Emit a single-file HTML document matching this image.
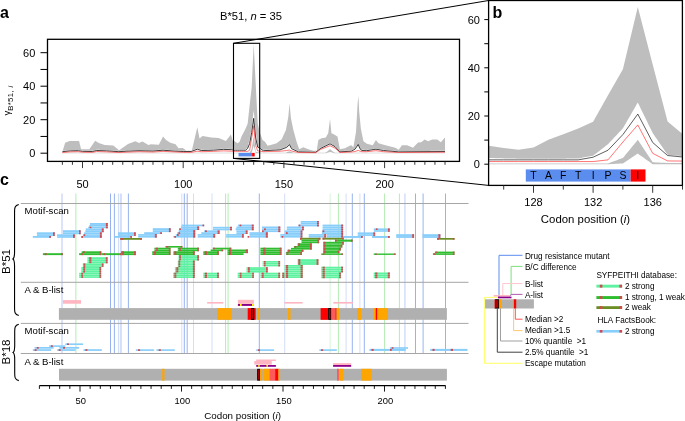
<!DOCTYPE html>
<html><head><meta charset="utf-8"><style>
html,body{margin:0;padding:0;background:#fff;width:685px;height:421px;overflow:hidden;font-family:"Liberation Sans",sans-serif}
svg{will-change:transform}
</style></head><body>
<svg width="685" height="421" viewBox="0 0 685 421" style="position:absolute;left:0;top:0">
<rect width="685" height="421" fill="#fff"/>
<defs><clipPath id="ca"><rect x="47.5" y="39.3" width="412" height="122"/></clipPath><clipPath id="cb"><rect x="488.6" y="0.5" width="193.8" height="185"/></clipPath></defs>
<g clip-path="url(#ca)">
<polygon points="62.36,151.69 65.18,142.65 66.99,141.98 69.61,140.97 79.08,140.97 81.09,149.18 89.35,149.18 95.19,140.64 98.81,142.98 104.65,144.99 113.31,145.49 119.15,150.35 128.02,143.99 135.27,141.14 139.09,142.98 142.52,141.47 148.36,144.99 150.98,144.15 158.83,144.66 163.06,136.62 166.08,139.97 170.31,142.81 175.55,144.32 178.57,148.17 182.80,148.01 187.23,151.36 191.66,151.36 197.30,127.24 199.51,138.46 202.53,135.95 211.40,137.45 218.65,137.96 225.90,140.97 230.93,134.44 232.74,140.80 233.55,140.30 235.56,141.98 237.58,143.15 239.59,141.64 241.61,136.28 243.62,132.43 245.63,128.41 247.65,123.72 249.66,105.29 251.68,87.20 253.69,43.99 255.70,83.85 257.72,123.55 259.73,132.26 262.55,139.97 264.97,141.64 267.59,145.66 271.61,144.82 276.65,143.15 281.68,139.13 285.91,129.92 288.33,116.68 289.54,103.28 290.95,118.36 293.37,129.92 296.59,141.64 299.21,149.18 303.23,147.34 308.27,149.18 313.30,150.69 316.73,150.69 318.34,139.97 321.56,138.29 325.79,137.45 328.21,133.27 330.02,119.03 331.43,133.27 333.24,134.10 337.47,136.62 339.89,149.18 344.92,148.17 349.76,145.66 351.37,145.33 353.38,147.17 356.00,131.93 357.61,103.45 358.42,95.91 359.22,111.83 360.83,128.58 363.45,141.14 366.88,143.65 372.72,145.33 375.94,139.97 378.56,143.32 383.59,144.66 389.43,146.16 395.27,147.84 398.70,149.85 401.92,145.16 407.16,145.16 413.00,147.84 418.03,142.48 421.25,142.14 424.68,139.46 428.10,141.14 432.33,139.46 437.37,139.46 440.79,142.14 444.82,137.79 445.02,137.79 445.02,150.77 444.01,150.78 443.01,150.79 442.00,150.79 440.99,150.80 439.98,150.81 438.98,150.81 437.97,150.82 436.96,150.83 435.96,150.84 434.95,150.84 433.94,150.85 432.94,150.86 431.93,150.87 430.92,150.87 429.91,150.88 428.91,150.89 427.90,150.90 426.89,150.90 425.89,150.91 424.88,150.92 423.87,150.92 422.87,150.93 421.86,150.94 420.85,150.95 419.84,150.95 418.84,150.96 417.83,150.97 416.82,150.98 415.82,150.98 414.81,150.99 413.80,151.00 412.80,151.00 411.79,151.01 410.78,151.02 409.77,151.03 408.77,151.03 407.76,151.04 406.75,151.05 405.75,151.06 404.74,151.06 403.73,151.07 402.73,151.08 401.72,151.08 400.71,151.09 399.70,151.10 398.70,151.11 397.69,151.02 396.68,150.93 395.68,150.84 394.67,150.75 393.66,150.66 392.66,150.57 391.65,150.48 390.64,150.39 389.63,150.30 388.63,150.21 387.62,150.12 386.61,150.03 385.61,149.94 384.60,149.86 383.59,149.77 382.59,149.59 381.58,149.41 380.57,149.24 379.56,149.06 378.56,148.88 377.55,148.71 376.54,148.53 375.54,148.49 374.53,148.66 373.52,148.82 372.52,148.98 371.51,149.15 370.50,149.31 369.49,149.47 368.49,149.64 367.48,149.80 366.47,149.93 365.47,149.89 364.46,149.85 363.45,149.82 362.45,149.78 361.44,149.26 360.43,148.43 359.42,146.64 358.42,144.22 357.41,144.91 356.40,146.37 355.40,147.84 354.39,148.76 353.38,149.32 352.38,149.88 351.37,150.44 350.36,150.50 349.35,150.55 348.35,150.61 347.34,150.67 346.33,150.73 345.33,150.79 344.32,150.85 343.31,150.91 342.31,150.97 341.30,151.02 340.29,151.08 339.28,150.46 338.28,149.38 337.27,148.29 336.26,147.21 335.26,146.13 334.25,145.46 333.24,144.89 332.24,144.32 331.23,143.75 330.22,143.18 329.21,143.46 328.21,143.95 327.20,144.44 326.19,144.93 325.19,145.43 324.18,145.92 323.17,146.41 322.17,146.90 321.16,147.39 320.15,148.05 319.14,148.82 318.14,149.59 317.13,150.36 316.12,151.13 315.12,151.43 314.11,151.41 313.10,151.39 312.10,151.37 311.09,151.35 310.08,151.33 309.07,151.31 308.07,151.29 307.06,151.27 306.05,151.25 305.05,151.23 304.04,151.22 303.03,151.20 302.03,151.18 301.02,151.16 300.01,151.14 299.00,151.12 298.00,150.92 296.99,150.45 295.98,149.98 294.98,149.51 293.97,149.05 292.96,148.58 291.96,148.11 290.95,146.72 289.94,144.71 288.93,144.48 287.93,145.44 286.92,146.39 285.91,146.89 284.91,147.27 283.90,147.65 282.89,148.03 281.89,148.41 280.88,148.79 279.87,149.11 278.87,149.16 277.86,149.21 276.85,149.26 275.84,149.31 274.84,149.36 273.83,149.41 272.82,149.46 271.82,149.51 270.81,149.56 269.80,149.61 268.79,149.66 267.79,149.71 266.78,149.76 265.77,149.81 264.77,149.86 263.76,149.91 262.75,149.51 261.75,148.82 260.74,148.12 259.73,147.50 258.73,147.09 257.72,146.67 256.71,139.13 255.70,131.59 254.70,120.96 253.69,110.32 252.68,119.28 251.68,128.24 250.67,133.77 249.66,139.30 248.65,143.32 247.65,147.34 246.64,148.26 245.63,149.18 244.63,149.26 243.62,149.35 242.61,149.35 241.61,149.35 240.60,149.35 239.59,149.35 238.58,149.35 237.58,149.35 236.57,149.26 235.56,149.18 234.56,149.01 233.55,148.84 232.54,149.18 231.54,148.93 230.53,148.89 229.52,148.84 228.51,148.80 227.51,148.76 226.50,148.72 225.49,148.68 224.49,148.64 223.48,148.59 222.47,148.68 221.47,148.76 220.46,148.84 219.45,148.93 218.44,149.01 217.44,149.10 216.43,149.18 215.42,149.26 214.42,149.35 213.41,149.43 212.40,149.46 211.40,149.49 210.39,149.51 209.38,149.54 208.38,149.57 207.37,149.60 206.36,149.63 205.35,149.65 204.35,149.68 203.34,149.71 202.33,149.74 201.33,149.77 200.32,149.43 199.31,149.10 198.31,148.76 197.30,148.43 196.29,148.82 195.28,149.21 194.28,149.60 193.27,149.99 192.26,150.38 191.26,150.77 190.25,150.77 189.24,150.77 188.23,150.77 187.23,150.77 186.22,150.77 185.21,150.77 184.21,150.77 183.20,150.77 182.19,150.72 181.19,150.67 180.18,150.62 179.17,150.57 178.16,150.52 177.16,150.47 176.15,150.42 175.14,150.37 174.14,150.32 173.13,150.27 172.12,150.19 171.12,150.10 170.11,150.02 169.10,149.93 168.09,149.85 167.09,149.77 166.08,149.68 165.07,149.60 164.07,149.51 163.06,149.43 162.05,149.51 161.05,149.60 160.04,149.68 159.03,149.77 158.02,149.85 157.02,149.93 156.01,150.02 155.00,150.10 154.00,150.19 152.99,150.27 151.98,150.24 150.98,150.22 149.97,150.20 148.96,150.17 147.95,150.15 146.95,150.13 145.94,150.10 144.93,150.08 143.93,150.05 142.92,150.03 141.91,150.01 140.91,149.98 139.90,149.96 138.89,149.93 137.88,149.98 136.88,150.02 135.87,150.06 134.86,150.10 133.86,150.14 132.85,150.19 131.84,150.23 130.84,150.27 129.83,150.31 128.82,150.35 127.81,150.39 126.81,150.44 125.80,150.50 124.79,150.56 123.79,150.62 122.78,150.69 121.77,150.75 120.77,150.81 119.76,150.88 118.75,150.94 117.75,150.87 116.74,150.80 115.73,150.73 114.72,150.66 113.72,150.59 112.71,150.52 111.70,150.45 110.70,150.38 109.69,150.31 108.68,150.24 107.67,150.17 106.67,150.10 105.66,150.07 104.65,150.03 103.65,150.00 102.64,149.97 101.63,149.93 100.63,149.90 99.62,149.87 98.61,149.83 97.61,149.80 96.60,149.77 95.59,150.02 94.58,150.27 93.58,150.52 92.57,150.77 91.56,150.75 90.56,150.74 89.55,150.72 88.54,150.70 87.53,150.69 86.53,150.67 85.52,150.65 84.51,150.64 83.51,150.62 82.50,150.60 81.49,150.44 80.49,150.27 79.48,150.10 78.47,149.93 77.47,149.95 76.46,149.98 75.45,150.00 74.44,150.02 73.44,150.04 72.43,150.06 71.42,150.08 70.42,150.10 69.41,150.21 68.40,150.31 67.39,150.42 66.39,150.52 65.38,150.62 64.37,150.73 63.37,150.83 62.36,150.94" fill="#bebebe"/>
<polygon points="62.36,152.78 63.37,152.78 64.37,152.78 65.38,152.78 66.39,152.78 67.39,152.78 68.40,152.78 69.41,152.78 70.42,152.78 71.42,152.78 72.43,152.78 73.44,152.78 74.44,152.78 75.45,152.78 76.46,152.78 77.47,152.78 78.47,152.78 79.48,152.78 80.49,152.78 81.49,152.78 82.50,152.78 83.51,152.78 84.51,152.78 85.52,152.78 86.53,152.78 87.53,152.78 88.54,152.78 89.55,152.78 90.56,152.78 91.56,152.78 92.57,152.78 93.58,152.78 94.58,152.78 95.59,152.78 96.60,152.78 97.61,152.78 98.61,152.78 99.62,152.78 100.63,152.78 101.63,152.78 102.64,152.78 103.65,152.78 104.65,152.78 105.66,152.78 106.67,152.78 107.67,152.78 108.68,152.78 109.69,152.78 110.70,152.78 111.70,152.78 112.71,152.78 113.72,152.78 114.72,152.78 115.73,152.78 116.74,152.78 117.75,152.78 118.75,152.78 119.76,152.78 120.77,152.78 121.77,152.78 122.78,152.78 123.79,152.78 124.79,152.78 125.80,152.78 126.81,152.78 127.81,152.78 128.82,152.78 129.83,152.78 130.84,152.78 131.84,152.78 132.85,152.78 133.86,152.78 134.86,152.78 135.87,152.78 136.88,152.78 137.88,152.78 138.89,152.78 139.90,152.78 140.91,152.78 141.91,152.78 142.92,152.78 143.93,152.78 144.93,152.78 145.94,152.78 146.95,152.78 147.95,152.78 148.96,152.78 149.97,152.78 150.98,152.78 151.98,152.78 152.99,152.78 154.00,152.78 155.00,152.78 156.01,152.78 157.02,152.78 158.02,152.78 159.03,152.78 160.04,152.78 161.05,152.78 162.05,152.78 163.06,152.78 164.07,152.78 165.07,152.78 166.08,152.78 167.09,152.78 168.09,152.78 169.10,152.78 170.11,152.78 171.12,152.78 172.12,152.78 173.13,152.78 174.14,152.78 175.14,152.78 176.15,152.78 177.16,152.78 178.16,152.78 179.17,152.78 180.18,152.78 181.19,152.78 182.19,152.78 183.20,152.78 184.21,152.78 185.21,152.78 186.22,152.78 187.23,152.78 188.23,152.78 189.24,152.78 190.25,152.78 191.26,152.78 192.26,152.78 193.27,152.78 194.28,152.78 195.28,152.78 196.29,152.78 197.30,152.78 198.31,152.78 199.31,152.78 200.32,152.78 201.33,152.78 202.33,152.78 203.34,152.78 204.35,152.78 205.35,152.78 206.36,152.78 207.37,152.78 208.38,152.78 209.38,152.78 210.39,152.78 211.40,152.78 212.40,152.78 213.41,152.78 214.42,152.78 215.42,152.78 216.43,152.78 217.44,152.78 218.44,152.78 219.45,152.78 220.46,152.78 221.47,152.78 222.47,152.78 223.48,152.78 224.49,152.78 225.49,152.78 226.50,152.78 227.51,152.78 228.51,152.78 229.52,152.78 230.53,152.78 231.54,152.78 232.54,152.78 233.55,152.70 234.56,152.70 235.56,152.70 236.57,152.70 237.58,152.70 238.58,152.70 239.59,152.70 240.60,152.70 241.61,152.70 242.61,152.70 243.62,152.70 244.63,152.70 245.63,152.70 246.64,152.70 247.65,152.70 248.65,152.70 249.66,152.70 250.67,150.77 251.68,148.84 252.68,142.56 253.69,136.28 254.70,144.07 255.70,151.86 256.71,152.11 257.72,152.36 258.73,152.36 259.73,152.36 260.74,152.78 261.75,152.78 262.75,152.78 263.76,152.78 264.77,152.78 265.77,152.78 266.78,152.78 267.79,152.78 268.79,152.78 269.80,152.78 270.81,152.78 271.82,152.78 272.82,152.78 273.83,152.78 274.84,152.78 275.84,152.78 276.85,152.78 277.86,152.78 278.87,152.78 279.87,152.78 280.88,152.78 281.89,152.78 282.89,152.78 283.90,152.78 284.91,152.78 285.91,152.64 286.92,152.24 287.93,151.83 288.93,151.43 289.94,151.35 290.95,151.75 291.96,152.15 292.96,152.56 293.97,152.78 294.98,152.78 295.98,152.78 296.99,152.78 298.00,152.78 299.00,152.78 300.01,152.78 301.02,152.78 302.03,152.78 303.03,152.78 304.04,152.78 305.05,152.78 306.05,152.78 307.06,152.78 308.07,152.78 309.07,152.78 310.08,152.78 311.09,152.78 312.10,152.78 313.10,152.78 314.11,152.78 315.12,152.78 316.12,152.78 317.13,152.78 318.14,152.78 319.14,152.78 320.15,152.78 321.16,152.78 322.17,152.78 323.17,152.78 324.18,152.78 325.19,152.78 326.19,152.24 327.20,151.43 328.21,150.63 329.21,149.82 330.22,149.34 331.23,150.14 332.24,150.95 333.24,151.75 334.25,152.56 335.26,152.78 336.26,152.78 337.27,152.78 338.28,152.78 339.28,152.78 340.29,152.78 341.30,152.78 342.31,152.78 343.31,152.78 344.32,152.78 345.33,152.78 346.33,152.78 347.34,152.78 348.35,152.78 349.35,152.78 350.36,152.78 351.37,152.78 352.38,152.78 353.38,152.78 354.39,152.78 355.40,152.78 356.40,152.78 357.41,152.78 358.42,152.78 359.42,152.78 360.43,152.78 361.44,152.78 362.45,152.78 363.45,152.78 364.46,152.78 365.47,152.78 366.47,152.78 367.48,152.78 368.49,152.78 369.49,152.78 370.50,152.78 371.51,152.78 372.52,152.78 373.52,152.78 374.53,152.78 375.54,152.78 376.54,152.78 377.55,152.78 378.56,152.78 379.56,152.78 380.57,152.78 381.58,152.78 382.59,152.78 383.59,152.78 384.60,152.78 385.61,152.78 386.61,152.78 387.62,152.78 388.63,152.78 389.63,152.78 390.64,152.78 391.65,152.78 392.66,152.78 393.66,152.78 394.67,152.78 395.68,152.78 396.68,152.78 397.69,152.78 398.70,152.78 399.70,152.78 400.71,152.78 401.72,152.78 402.73,152.78 403.73,152.78 404.74,152.78 405.75,152.78 406.75,152.78 407.76,152.78 408.77,152.78 409.77,152.78 410.78,152.78 411.79,152.78 412.80,152.78 413.80,152.78 414.81,152.78 415.82,152.78 416.82,152.78 417.83,152.78 418.84,152.78 419.84,152.78 420.85,152.78 421.86,152.78 422.87,152.78 423.87,152.78 424.88,152.78 425.89,152.78 426.89,152.78 427.90,152.78 428.91,152.78 429.91,152.78 430.92,152.78 431.93,152.78 432.94,152.78 433.94,152.78 434.95,152.78 435.96,152.78 436.96,152.78 437.97,152.78 438.98,152.78 439.98,152.78 440.99,152.78 442.00,152.78 443.01,152.78 444.01,152.78 445.02,152.78 445.02,153.20 444.01,153.20 443.01,153.20 442.00,153.20 440.99,153.20 439.98,153.20 438.98,153.20 437.97,153.20 436.96,153.20 435.96,153.20 434.95,153.20 433.94,153.20 432.94,153.20 431.93,153.20 430.92,153.20 429.91,153.20 428.91,153.20 427.90,153.20 426.89,153.20 425.89,153.20 424.88,153.20 423.87,153.20 422.87,153.20 421.86,153.20 420.85,153.20 419.84,153.20 418.84,153.20 417.83,153.20 416.82,153.20 415.82,153.20 414.81,153.20 413.80,153.20 412.80,153.20 411.79,153.20 410.78,153.20 409.77,153.20 408.77,153.20 407.76,153.20 406.75,153.20 405.75,153.20 404.74,153.20 403.73,153.20 402.73,153.20 401.72,153.20 400.71,153.20 399.70,153.20 398.70,153.20 397.69,153.20 396.68,153.20 395.68,153.20 394.67,153.20 393.66,153.20 392.66,153.20 391.65,153.20 390.64,153.20 389.63,153.20 388.63,153.20 387.62,153.20 386.61,153.20 385.61,153.20 384.60,153.20 383.59,153.20 382.59,153.20 381.58,153.20 380.57,153.20 379.56,153.20 378.56,153.20 377.55,153.20 376.54,153.20 375.54,153.20 374.53,153.20 373.52,153.20 372.52,153.20 371.51,153.20 370.50,153.20 369.49,153.20 368.49,153.20 367.48,153.20 366.47,153.20 365.47,153.20 364.46,153.20 363.45,153.20 362.45,153.20 361.44,153.20 360.43,153.20 359.42,153.20 358.42,153.20 357.41,153.20 356.40,153.20 355.40,153.20 354.39,153.20 353.38,153.20 352.38,153.20 351.37,153.20 350.36,153.20 349.35,153.20 348.35,153.20 347.34,153.20 346.33,153.20 345.33,153.20 344.32,153.20 343.31,153.20 342.31,153.20 341.30,153.20 340.29,153.20 339.28,153.20 338.28,153.20 337.27,153.20 336.26,153.20 335.26,153.20 334.25,153.20 333.24,152.93 332.24,152.60 331.23,152.26 330.22,151.93 329.21,152.13 328.21,152.46 327.20,152.80 326.19,153.13 325.19,153.20 324.18,153.20 323.17,153.20 322.17,153.20 321.16,153.20 320.15,153.20 319.14,153.20 318.14,153.20 317.13,153.20 316.12,153.20 315.12,153.20 314.11,153.20 313.10,153.20 312.10,153.20 311.09,153.20 310.08,153.20 309.07,153.20 308.07,153.20 307.06,153.20 306.05,153.20 305.05,153.20 304.04,153.20 303.03,153.20 302.03,153.20 301.02,153.20 300.01,153.20 299.00,153.20 298.00,153.20 296.99,153.20 295.98,153.20 294.98,153.20 293.97,153.20 292.96,153.20 291.96,153.20 290.95,153.20 289.94,153.20 288.93,153.20 287.93,153.20 286.92,153.20 285.91,153.20 284.91,153.20 283.90,153.20 282.89,153.20 281.89,153.20 280.88,153.20 279.87,153.20 278.87,153.20 277.86,153.20 276.85,153.20 275.84,153.20 274.84,153.20 273.83,153.20 272.82,153.20 271.82,153.20 270.81,153.20 269.80,153.20 268.79,153.20 267.79,153.20 266.78,153.20 265.77,153.20 264.77,153.20 263.76,153.20 262.75,153.20 261.75,153.20 260.74,153.20 259.73,153.20 258.73,153.20 257.72,153.20 256.71,153.20 255.70,153.20 254.70,149.51 253.69,145.83 252.68,149.26 251.68,152.70 250.67,152.95 249.66,153.20 248.65,153.20 247.65,153.20 246.64,153.20 245.63,153.20 244.63,153.20 243.62,153.20 242.61,153.20 241.61,153.20 240.60,153.20 239.59,153.20 238.58,153.20 237.58,153.20 236.57,153.20 235.56,153.20 234.56,153.20 233.55,153.20 232.54,153.20 231.54,153.20 230.53,153.20 229.52,153.20 228.51,153.20 227.51,153.20 226.50,153.20 225.49,153.20 224.49,153.20 223.48,153.20 222.47,153.20 221.47,153.20 220.46,153.20 219.45,153.20 218.44,153.20 217.44,153.20 216.43,153.20 215.42,153.20 214.42,153.20 213.41,153.20 212.40,153.20 211.40,153.20 210.39,153.20 209.38,153.20 208.38,153.20 207.37,153.20 206.36,153.20 205.35,153.20 204.35,153.20 203.34,153.20 202.33,153.20 201.33,153.20 200.32,153.20 199.31,153.20 198.31,153.20 197.30,153.20 196.29,153.20 195.28,153.20 194.28,153.20 193.27,153.20 192.26,153.20 191.26,153.20 190.25,153.20 189.24,153.20 188.23,153.20 187.23,153.20 186.22,153.20 185.21,153.20 184.21,153.20 183.20,153.20 182.19,153.20 181.19,153.20 180.18,153.20 179.17,153.20 178.16,153.20 177.16,153.20 176.15,153.20 175.14,153.20 174.14,153.20 173.13,153.20 172.12,153.20 171.12,153.20 170.11,153.20 169.10,153.20 168.09,153.20 167.09,153.20 166.08,153.20 165.07,153.20 164.07,153.20 163.06,153.20 162.05,153.20 161.05,153.20 160.04,153.20 159.03,153.20 158.02,153.20 157.02,153.20 156.01,153.20 155.00,153.20 154.00,153.20 152.99,153.20 151.98,153.20 150.98,153.20 149.97,153.20 148.96,153.20 147.95,153.20 146.95,153.20 145.94,153.20 144.93,153.20 143.93,153.20 142.92,153.20 141.91,153.20 140.91,153.20 139.90,153.20 138.89,153.20 137.88,153.20 136.88,153.20 135.87,153.20 134.86,153.20 133.86,153.20 132.85,153.20 131.84,153.20 130.84,153.20 129.83,153.20 128.82,153.20 127.81,153.20 126.81,153.20 125.80,153.20 124.79,153.20 123.79,153.20 122.78,153.20 121.77,153.20 120.77,153.20 119.76,153.20 118.75,153.20 117.75,153.20 116.74,153.20 115.73,153.20 114.72,153.20 113.72,153.20 112.71,153.20 111.70,153.20 110.70,153.20 109.69,153.20 108.68,153.20 107.67,153.20 106.67,153.20 105.66,153.20 104.65,153.20 103.65,153.20 102.64,153.20 101.63,153.20 100.63,153.20 99.62,153.20 98.61,153.20 97.61,153.20 96.60,153.20 95.59,153.20 94.58,153.20 93.58,153.20 92.57,153.20 91.56,153.20 90.56,153.20 89.55,153.20 88.54,153.20 87.53,153.20 86.53,153.20 85.52,153.20 84.51,153.20 83.51,153.20 82.50,153.20 81.49,153.20 80.49,153.20 79.48,153.20 78.47,153.20 77.47,153.20 76.46,153.20 75.45,153.20 74.44,153.20 73.44,153.20 72.43,153.20 71.42,153.20 70.42,153.20 69.41,153.20 68.40,153.20 67.39,153.20 66.39,153.20 65.38,153.20 64.37,153.20 63.37,153.20 62.36,153.20" fill="#bebebe"/>
<polyline points="62.36,151.69 70.42,150.85 78.47,150.69 82.50,151.36 92.57,151.52 96.60,150.52 106.67,150.85 118.75,151.69 126.81,151.19 138.89,150.69 152.99,151.02 163.06,150.19 173.13,151.02 183.20,151.52 191.26,151.52 197.30,149.18 201.33,150.52 213.41,150.19 223.48,149.35 231.54,149.68 233.55,150.19 235.56,150.19 237.58,150.19 239.59,150.19 241.61,150.19 243.62,150.19 245.63,150.19 247.65,148.34 249.66,143.48 251.68,132.60 253.69,118.36 255.70,138.12 257.72,147.17 259.73,148.17 263.36,150.69 280.07,149.85 286.72,147.34 289.54,144.66 291.55,148.68 298.40,151.86 315.72,152.19 320.76,148.34 330.02,143.82 335.06,146.67 339.89,151.86 351.37,151.19 354.99,149.18 358.22,144.49 360.03,148.84 362.04,150.52 366.68,150.69 375.94,149.18 383.59,150.52 398.70,151.86 445.02,151.52" fill="none" stroke="#1a1a1a" stroke-width="0.85" stroke-linejoin="round"/>
<polyline points="62.36,152.53 70.42,151.86 78.47,151.69 82.50,152.19 92.57,152.36 96.60,151.52 106.67,151.86 118.75,152.53 126.81,152.19 138.89,151.69 152.99,152.03 163.06,151.36 173.13,151.86 183.20,152.36 191.26,152.36 197.30,151.19 201.33,151.69 213.41,151.36 223.48,150.85 231.54,151.19 233.55,151.36 235.56,151.36 237.58,151.36 239.59,151.36 241.61,151.36 243.62,151.36 245.63,151.36 247.65,151.36 249.66,150.19 251.68,137.79 253.69,125.90 255.70,145.66 257.72,150.94 259.73,151.02 263.36,151.69 280.07,151.19 286.72,150.52 289.54,150.02 291.55,151.02 298.40,152.53 315.72,152.70 320.76,149.35 330.02,145.66 335.06,148.17 339.89,152.53 351.37,152.03 354.99,151.52 358.22,150.35 360.03,151.19 362.04,151.69 366.68,151.69 375.94,150.69 383.59,151.69 398.70,152.53 445.02,152.19" fill="none" stroke="#ff3a3a" stroke-width="0.7" stroke-linejoin="round"/>
</g>
<rect x="238.5" y="152.9" width="13.6" height="3.5" fill="#5b8def"/>
<rect x="252.1" y="152.9" width="2.6" height="3.5" fill="#ff0000"/>
<rect x="47.5" y="39.3" width="412" height="122.1" fill="none" stroke="#000" stroke-width="1.3"/>
<rect x="233.5" y="43.3" width="26.2" height="115.1" fill="none" stroke="#000" stroke-width="1.1"/>
<line x1="233.5" y1="43.3" x2="488.6" y2="0.5" stroke="#000" stroke-width="1"/>
<line x1="233.5" y1="158.4" x2="488.6" y2="185.4" stroke="#000" stroke-width="1"/>
<line x1="40.5" y1="153.20" x2="47.5" y2="153.20" stroke="#000" stroke-width="1"/>
<line x1="40.5" y1="136.45" x2="47.5" y2="136.45" stroke="#000" stroke-width="1"/>
<line x1="40.5" y1="119.70" x2="47.5" y2="119.70" stroke="#000" stroke-width="1"/>
<line x1="40.5" y1="102.95" x2="47.5" y2="102.95" stroke="#000" stroke-width="1"/>
<line x1="40.5" y1="86.20" x2="47.5" y2="86.20" stroke="#000" stroke-width="1"/>
<line x1="40.5" y1="69.45" x2="47.5" y2="69.45" stroke="#000" stroke-width="1"/>
<line x1="40.5" y1="52.70" x2="47.5" y2="52.70" stroke="#000" stroke-width="1"/>
<text x="35.3" y="157.10" font-size="11" text-anchor="end" font-family='"Liberation Sans", sans-serif'>0</text>
<text x="35.3" y="123.60" font-size="11" text-anchor="end" font-family='"Liberation Sans", sans-serif'>20</text>
<text x="35.3" y="90.10" font-size="11" text-anchor="end" font-family='"Liberation Sans", sans-serif'>40</text>
<text x="35.3" y="56.60" font-size="11" text-anchor="end" font-family='"Liberation Sans", sans-serif'>60</text>
<line x1="62.36" y1="161.5" x2="62.36" y2="164.80" stroke="#222" stroke-width="0.9"/>
<line x1="72.43" y1="161.5" x2="72.43" y2="164.80" stroke="#222" stroke-width="0.9"/>
<line x1="82.50" y1="161.5" x2="82.50" y2="168.10" stroke="#222" stroke-width="0.9"/>
<line x1="92.57" y1="161.5" x2="92.57" y2="164.80" stroke="#222" stroke-width="0.9"/>
<line x1="102.64" y1="161.5" x2="102.64" y2="164.80" stroke="#222" stroke-width="0.9"/>
<line x1="112.71" y1="161.5" x2="112.71" y2="164.80" stroke="#222" stroke-width="0.9"/>
<line x1="122.78" y1="161.5" x2="122.78" y2="164.80" stroke="#222" stroke-width="0.9"/>
<line x1="132.85" y1="161.5" x2="132.85" y2="164.80" stroke="#222" stroke-width="0.9"/>
<line x1="142.92" y1="161.5" x2="142.92" y2="164.80" stroke="#222" stroke-width="0.9"/>
<line x1="152.99" y1="161.5" x2="152.99" y2="164.80" stroke="#222" stroke-width="0.9"/>
<line x1="163.06" y1="161.5" x2="163.06" y2="164.80" stroke="#222" stroke-width="0.9"/>
<line x1="173.13" y1="161.5" x2="173.13" y2="164.80" stroke="#222" stroke-width="0.9"/>
<line x1="183.20" y1="161.5" x2="183.20" y2="168.10" stroke="#222" stroke-width="0.9"/>
<line x1="193.27" y1="161.5" x2="193.27" y2="164.80" stroke="#222" stroke-width="0.9"/>
<line x1="203.34" y1="161.5" x2="203.34" y2="164.80" stroke="#222" stroke-width="0.9"/>
<line x1="213.41" y1="161.5" x2="213.41" y2="164.80" stroke="#222" stroke-width="0.9"/>
<line x1="223.48" y1="161.5" x2="223.48" y2="164.80" stroke="#222" stroke-width="0.9"/>
<line x1="233.55" y1="161.5" x2="233.55" y2="164.80" stroke="#222" stroke-width="0.9"/>
<line x1="243.62" y1="161.5" x2="243.62" y2="164.80" stroke="#222" stroke-width="0.9"/>
<line x1="253.69" y1="161.5" x2="253.69" y2="164.80" stroke="#222" stroke-width="0.9"/>
<line x1="263.76" y1="161.5" x2="263.76" y2="164.80" stroke="#222" stroke-width="0.9"/>
<line x1="273.83" y1="161.5" x2="273.83" y2="164.80" stroke="#222" stroke-width="0.9"/>
<line x1="283.90" y1="161.5" x2="283.90" y2="168.10" stroke="#222" stroke-width="0.9"/>
<line x1="293.97" y1="161.5" x2="293.97" y2="164.80" stroke="#222" stroke-width="0.9"/>
<line x1="304.04" y1="161.5" x2="304.04" y2="164.80" stroke="#222" stroke-width="0.9"/>
<line x1="314.11" y1="161.5" x2="314.11" y2="164.80" stroke="#222" stroke-width="0.9"/>
<line x1="324.18" y1="161.5" x2="324.18" y2="164.80" stroke="#222" stroke-width="0.9"/>
<line x1="334.25" y1="161.5" x2="334.25" y2="164.80" stroke="#222" stroke-width="0.9"/>
<line x1="344.32" y1="161.5" x2="344.32" y2="164.80" stroke="#222" stroke-width="0.9"/>
<line x1="354.39" y1="161.5" x2="354.39" y2="164.80" stroke="#222" stroke-width="0.9"/>
<line x1="364.46" y1="161.5" x2="364.46" y2="164.80" stroke="#222" stroke-width="0.9"/>
<line x1="374.53" y1="161.5" x2="374.53" y2="164.80" stroke="#222" stroke-width="0.9"/>
<line x1="384.60" y1="161.5" x2="384.60" y2="168.10" stroke="#222" stroke-width="0.9"/>
<line x1="394.67" y1="161.5" x2="394.67" y2="164.80" stroke="#222" stroke-width="0.9"/>
<line x1="404.74" y1="161.5" x2="404.74" y2="164.80" stroke="#222" stroke-width="0.9"/>
<line x1="414.81" y1="161.5" x2="414.81" y2="164.80" stroke="#222" stroke-width="0.9"/>
<line x1="424.88" y1="161.5" x2="424.88" y2="164.80" stroke="#222" stroke-width="0.9"/>
<line x1="434.95" y1="161.5" x2="434.95" y2="164.80" stroke="#222" stroke-width="0.9"/>
<line x1="445.02" y1="161.5" x2="445.02" y2="164.80" stroke="#222" stroke-width="0.9"/>
<text x="82.50" y="188.4" font-size="11" text-anchor="middle" font-family='"Liberation Sans", sans-serif'>50</text>
<text x="183.20" y="188.4" font-size="11" text-anchor="middle" font-family='"Liberation Sans", sans-serif'>100</text>
<text x="283.90" y="188.4" font-size="11" text-anchor="middle" font-family='"Liberation Sans", sans-serif'>150</text>
<text x="384.60" y="188.4" font-size="11" text-anchor="middle" font-family='"Liberation Sans", sans-serif'>200</text>
<text x="251" y="19.8" font-size="11.2" text-anchor="middle" font-family='"Liberation Sans", sans-serif'>B*51, <tspan font-style="italic">n</tspan> = 35</text>
<text transform="translate(10.3,115.6) rotate(-90)" font-size="9.5" font-family='"Liberation Sans", sans-serif'>&#947;<tspan font-size="7.7" dy="3.1" letter-spacing="0.4">B*51, <tspan font-style="italic">i</tspan></tspan></text>
<text x="0" y="17.8" font-size="16" font-weight="bold" font-family='"Liberation Sans", sans-serif'>a</text>
<text x="492.5" y="17.8" font-size="16" font-weight="bold" font-family='"Liberation Sans", sans-serif'>b</text>
<text x="0" y="185.3" font-size="16" font-weight="bold" font-family='"Liberation Sans", sans-serif'>c</text>
<g clip-path="url(#cb)">
<polygon points="469.43,137.21 482.84,146.37 488.80,145.64 503.70,148.05 518.60,149.74 533.50,147.57 548.40,139.86 563.30,134.32 578.20,128.53 593.10,121.78 608.00,95.27 622.90,69.25 637.80,7.07 652.70,64.43 667.60,121.54 682.50,134.07 703.36,145.16 721.24,147.57 721.24,159.38 719.75,159.40 718.26,159.41 716.77,159.43 715.28,159.44 713.79,159.46 712.30,159.47 710.81,159.49 709.32,159.50 707.83,159.30 706.34,159.10 704.85,158.90 703.36,158.70 701.87,158.50 700.38,158.30 698.89,158.09 697.40,157.89 695.91,157.69 694.42,157.49 692.93,157.29 691.44,157.09 689.95,156.89 688.46,156.69 686.97,156.49 685.48,156.29 683.99,156.09 682.50,156.01 681.01,155.89 679.52,155.77 678.03,155.64 676.54,155.52 675.05,155.40 673.56,155.28 672.07,155.16 670.58,155.04 669.09,154.92 667.60,154.80 666.11,152.63 664.62,150.46 663.13,148.29 661.64,146.12 660.15,143.96 658.66,141.79 657.17,139.62 655.68,137.45 654.19,135.28 652.70,133.11 651.21,130.05 649.72,126.99 648.23,123.93 646.74,120.87 645.25,117.81 643.76,114.75 642.27,111.69 640.78,108.63 639.29,105.56 637.80,102.50 636.31,105.08 634.82,107.66 633.33,110.24 631.84,112.82 630.35,115.40 628.86,117.98 627.37,120.55 625.88,123.13 624.39,125.71 622.90,128.29 621.41,129.88 619.92,131.47 618.43,133.06 616.94,134.65 615.45,136.24 613.96,137.83 612.47,139.43 610.98,141.02 609.49,142.61 608.00,144.20 606.51,145.35 605.02,146.51 603.53,147.67 602.04,148.82 600.55,149.98 599.06,151.14 597.57,152.29 596.08,153.45 594.59,154.61 593.10,155.76 591.61,156.03 590.12,156.30 588.63,156.56 587.14,156.83 585.65,157.09 584.16,157.36 582.67,157.62 581.18,157.89 579.69,158.15 578.20,158.42 576.71,158.44 575.22,158.46 573.73,158.49 572.24,158.51 570.75,158.54 569.26,158.56 567.77,158.58 566.28,158.61 564.79,158.63 563.30,158.66 561.81,158.66 560.32,158.66 558.83,158.66 557.34,158.66 555.85,158.66 554.36,158.66 552.87,158.66 551.38,158.66 549.89,158.66 548.40,158.66 546.91,158.66 545.42,158.66 543.93,158.66 542.44,158.66 540.95,158.66 539.46,158.66 537.97,158.66 536.48,158.66 534.99,158.66 533.50,158.66 532.01,158.66 530.52,158.66 529.03,158.66 527.54,158.66 526.05,158.66 524.56,158.66 523.07,158.66 521.58,158.66 520.09,158.66 518.60,158.66 517.11,158.63 515.62,158.61 514.13,158.58 512.64,158.56 511.15,158.54 509.66,158.51 508.17,158.49 506.68,158.46 505.19,158.44 503.70,158.42 502.21,158.37 500.72,158.32 499.23,158.27 497.74,158.22 496.25,158.17 494.76,158.13 493.27,158.08 491.78,158.03 490.29,157.98 488.80,157.93 487.31,158.71 485.82,158.63 484.33,158.56 482.84,158.49 481.35,158.42 479.86,158.34 478.37,158.27 476.88,158.20 475.39,158.13 473.90,158.05 472.41,158.04 470.92,158.03 469.43,158.02" fill="#bebebe"/>
<polygon points="444.10,163.60 445.59,163.60 447.08,163.60 448.57,163.60 450.06,163.60 451.55,163.60 453.04,163.60 454.53,163.60 456.02,163.60 457.51,163.60 459.00,163.60 460.49,163.60 461.98,163.60 463.47,163.60 464.96,163.60 466.45,163.60 467.94,163.60 469.43,163.60 470.92,163.60 472.41,163.60 473.90,163.60 475.39,163.60 476.88,163.60 478.37,163.60 479.86,163.60 481.35,163.60 482.84,163.60 484.33,163.60 485.82,163.60 487.31,163.60 488.80,163.48 490.29,163.48 491.78,163.48 493.27,163.48 494.76,163.48 496.25,163.48 497.74,163.48 499.23,163.48 500.72,163.48 502.21,163.48 503.70,163.48 505.19,163.48 506.68,163.48 508.17,163.48 509.66,163.48 511.15,163.48 512.64,163.48 514.13,163.48 515.62,163.48 517.11,163.48 518.60,163.48 520.09,163.48 521.58,163.48 523.07,163.48 524.56,163.48 526.05,163.48 527.54,163.48 529.03,163.48 530.52,163.48 532.01,163.48 533.50,163.48 534.99,163.48 536.48,163.48 537.97,163.48 539.46,163.48 540.95,163.48 542.44,163.48 543.93,163.48 545.42,163.48 546.91,163.48 548.40,163.48 549.89,163.48 551.38,163.48 552.87,163.48 554.36,163.48 555.85,163.48 557.34,163.48 558.83,163.48 560.32,163.48 561.81,163.48 563.30,163.48 564.79,163.48 566.28,163.48 567.77,163.48 569.26,163.48 570.75,163.48 572.24,163.48 573.73,163.48 575.22,163.48 576.71,163.48 578.20,163.48 579.69,163.48 581.18,163.48 582.67,163.48 584.16,163.48 585.65,163.48 587.14,163.48 588.63,163.48 590.12,163.48 591.61,163.48 593.10,163.48 594.59,163.48 596.08,163.48 597.57,163.48 599.06,163.48 600.55,163.48 602.04,163.48 603.53,163.48 605.02,163.48 606.51,163.48 608.00,163.48 609.49,162.92 610.98,162.37 612.47,161.81 613.96,161.26 615.45,160.71 616.94,160.15 618.43,159.60 619.92,159.04 621.41,158.49 622.90,157.93 624.39,156.13 625.88,154.32 627.37,152.51 628.86,150.70 630.35,148.90 631.84,147.09 633.33,145.28 634.82,143.47 636.31,141.67 637.80,139.86 639.29,142.10 640.78,144.34 642.27,146.58 643.76,148.82 645.25,151.07 646.74,153.31 648.23,155.55 649.72,157.79 651.21,160.03 652.70,162.27 654.19,162.34 655.68,162.42 657.17,162.49 658.66,162.56 660.15,162.63 661.64,162.71 663.13,162.78 664.62,162.85 666.11,162.92 667.60,162.99 669.09,162.99 670.58,162.99 672.07,162.99 673.56,162.99 675.05,162.99 676.54,162.99 678.03,162.99 679.52,162.99 681.01,162.99 682.50,162.99 683.99,163.60 685.48,163.60 686.97,163.60 688.46,163.60 689.95,163.60 691.44,163.60 692.93,163.60 694.42,163.60 695.91,163.60 697.40,163.60 698.89,163.60 700.38,163.60 701.87,163.60 703.36,163.60 704.85,163.60 706.34,163.60 707.83,163.60 709.32,163.60 710.81,163.60 712.30,163.60 713.79,163.60 715.28,163.60 716.77,163.60 718.26,163.60 719.75,163.60 721.24,163.60 722.73,163.60 724.22,163.60 725.71,163.60 727.20,163.60 727.20,164.20 725.71,164.20 724.22,164.20 722.73,164.20 721.24,164.20 719.75,164.20 718.26,164.20 716.77,164.20 715.28,164.20 713.79,164.20 712.30,164.20 710.81,164.20 709.32,164.20 707.83,164.20 706.34,164.20 704.85,164.20 703.36,164.20 701.87,164.20 700.38,164.20 698.89,164.20 697.40,164.20 695.91,164.20 694.42,164.20 692.93,164.20 691.44,164.20 689.95,164.20 688.46,164.20 686.97,164.20 685.48,164.20 683.99,164.20 682.50,164.20 681.01,164.20 679.52,164.20 678.03,164.20 676.54,164.20 675.05,164.20 673.56,164.20 672.07,164.20 670.58,164.20 669.09,164.20 667.60,164.20 666.11,164.20 664.62,164.20 663.13,164.20 661.64,164.20 660.15,164.20 658.66,164.20 657.17,164.20 655.68,164.20 654.19,164.20 652.70,164.20 651.21,163.14 649.72,162.08 648.23,161.02 646.74,159.96 645.25,158.90 643.76,157.84 642.27,156.78 640.78,155.72 639.29,154.66 637.80,153.60 636.31,154.58 634.82,155.57 633.33,156.56 631.84,157.55 630.35,158.54 628.86,159.52 627.37,160.51 625.88,161.50 624.39,162.49 622.90,163.48 621.41,163.55 619.92,163.62 618.43,163.69 616.94,163.77 615.45,163.84 613.96,163.91 612.47,163.98 610.98,164.06 609.49,164.13 608.00,164.20 606.51,164.20 605.02,164.20 603.53,164.20 602.04,164.20 600.55,164.20 599.06,164.20 597.57,164.20 596.08,164.20 594.59,164.20 593.10,164.20 591.61,164.20 590.12,164.20 588.63,164.20 587.14,164.20 585.65,164.20 584.16,164.20 582.67,164.20 581.18,164.20 579.69,164.20 578.20,164.20 576.71,164.20 575.22,164.20 573.73,164.20 572.24,164.20 570.75,164.20 569.26,164.20 567.77,164.20 566.28,164.20 564.79,164.20 563.30,164.20 561.81,164.20 560.32,164.20 558.83,164.20 557.34,164.20 555.85,164.20 554.36,164.20 552.87,164.20 551.38,164.20 549.89,164.20 548.40,164.20 546.91,164.20 545.42,164.20 543.93,164.20 542.44,164.20 540.95,164.20 539.46,164.20 537.97,164.20 536.48,164.20 534.99,164.20 533.50,164.20 532.01,164.20 530.52,164.20 529.03,164.20 527.54,164.20 526.05,164.20 524.56,164.20 523.07,164.20 521.58,164.20 520.09,164.20 518.60,164.20 517.11,164.20 515.62,164.20 514.13,164.20 512.64,164.20 511.15,164.20 509.66,164.20 508.17,164.20 506.68,164.20 505.19,164.20 503.70,164.20 502.21,164.20 500.72,164.20 499.23,164.20 497.74,164.20 496.25,164.20 494.76,164.20 493.27,164.20 491.78,164.20 490.29,164.20 488.80,164.20 487.31,164.20 485.82,164.20 484.33,164.20 482.84,164.20 481.35,164.20 479.86,164.20 478.37,164.20 476.88,164.20 475.39,164.20 473.90,164.20 472.41,164.20 470.92,164.20 469.43,164.20 467.94,164.20 466.45,164.20 464.96,164.20 463.47,164.20 461.98,164.20 460.49,164.20 459.00,164.20 457.51,164.20 456.02,164.20 454.53,164.20 453.04,164.20 451.55,164.20 450.06,164.20 448.57,164.20 447.08,164.20 445.59,164.20 444.10,164.20" fill="#bebebe"/>
<polyline points="473.90,159.14 488.80,159.86 503.70,159.86 518.60,159.86 533.50,159.86 548.40,159.86 563.30,159.86 578.20,159.86 593.10,157.21 608.00,150.22 622.90,134.56 637.80,114.07 652.70,142.51 667.60,155.52 682.50,156.97 709.32,160.58" fill="none" stroke="#1a1a1a" stroke-width="0.7" stroke-linejoin="round"/>
<polyline points="473.90,161.31 488.80,161.55 503.70,161.55 518.60,161.55 533.50,161.55 548.40,161.55 563.30,161.55 578.20,161.55 593.10,161.55 608.00,159.86 622.90,142.03 637.80,124.92 652.70,153.35 667.60,160.95 682.50,161.07 709.32,162.03" fill="none" stroke="#ff3a3a" stroke-width="0.7" stroke-linejoin="round"/>
</g>
<rect x="525.8" y="169.4" width="104.8" height="12.2" fill="#5b8def"/>
<rect x="630.6" y="169.4" width="14.9" height="12.2" fill="#ff0000"/>
<text x="533.50" y="179.4" font-size="10.5" text-anchor="middle" font-family='"Liberation Sans", sans-serif'>T</text>
<text x="548.40" y="179.4" font-size="10.5" text-anchor="middle" font-family='"Liberation Sans", sans-serif'>A</text>
<text x="563.30" y="179.4" font-size="10.5" text-anchor="middle" font-family='"Liberation Sans", sans-serif'>F</text>
<text x="578.20" y="179.4" font-size="10.5" text-anchor="middle" font-family='"Liberation Sans", sans-serif'>T</text>
<text x="593.10" y="179.4" font-size="10.5" text-anchor="middle" font-family='"Liberation Sans", sans-serif'>I</text>
<text x="608.00" y="179.4" font-size="10.5" text-anchor="middle" font-family='"Liberation Sans", sans-serif'>P</text>
<text x="622.90" y="179.4" font-size="10.5" text-anchor="middle" font-family='"Liberation Sans", sans-serif'>S</text>
<text x="637.80" y="179.4" font-size="10.5" text-anchor="middle" font-family='"Liberation Sans", sans-serif'>I</text>
<rect x="488.6" y="0.5" width="193.8" height="184.9" fill="none" stroke="#000" stroke-width="1.3"/>
<line x1="484.3" y1="164.20" x2="488.6" y2="164.20" stroke="#000" stroke-width="1"/>
<line x1="484.3" y1="140.10" x2="488.6" y2="140.10" stroke="#000" stroke-width="1"/>
<line x1="484.3" y1="116.00" x2="488.6" y2="116.00" stroke="#000" stroke-width="1"/>
<line x1="484.3" y1="91.90" x2="488.6" y2="91.90" stroke="#000" stroke-width="1"/>
<line x1="484.3" y1="67.80" x2="488.6" y2="67.80" stroke="#000" stroke-width="1"/>
<line x1="484.3" y1="43.70" x2="488.6" y2="43.70" stroke="#000" stroke-width="1"/>
<line x1="484.3" y1="19.60" x2="488.6" y2="19.60" stroke="#000" stroke-width="1"/>
<text x="479.9" y="168.10" font-size="11" text-anchor="end" font-family='"Liberation Sans", sans-serif'>0</text>
<text x="479.9" y="119.90" font-size="11" text-anchor="end" font-family='"Liberation Sans", sans-serif'>20</text>
<text x="479.9" y="71.70" font-size="11" text-anchor="end" font-family='"Liberation Sans", sans-serif'>40</text>
<text x="479.9" y="23.50" font-size="11" text-anchor="end" font-family='"Liberation Sans", sans-serif'>60</text>
<line x1="503.70" y1="185.4" x2="503.70" y2="189.60" stroke="#222" stroke-width="0.9"/>
<line x1="533.50" y1="185.4" x2="533.50" y2="192.80" stroke="#222" stroke-width="0.9"/>
<line x1="563.30" y1="185.4" x2="563.30" y2="189.60" stroke="#222" stroke-width="0.9"/>
<line x1="593.10" y1="185.4" x2="593.10" y2="192.80" stroke="#222" stroke-width="0.9"/>
<line x1="622.90" y1="185.4" x2="622.90" y2="189.60" stroke="#222" stroke-width="0.9"/>
<line x1="652.70" y1="185.4" x2="652.70" y2="192.80" stroke="#222" stroke-width="0.9"/>
<line x1="682.50" y1="185.4" x2="682.50" y2="189.60" stroke="#222" stroke-width="0.9"/>
<text x="533.50" y="205.6" font-size="11" text-anchor="middle" font-family='"Liberation Sans", sans-serif'>128</text>
<text x="593.10" y="205.6" font-size="11" text-anchor="middle" font-family='"Liberation Sans", sans-serif'>132</text>
<text x="652.70" y="205.6" font-size="11" text-anchor="middle" font-family='"Liberation Sans", sans-serif'>136</text>
<text x="585.5" y="222.6" font-size="11.4" text-anchor="middle" font-family='"Liberation Sans", sans-serif'>Codon position (<tspan font-style="italic">i</tspan>)</text>
<line x1="62.00" y1="193.5" x2="62.00" y2="353.4" stroke="#b6c8f4" stroke-width="1"/>
<line x1="75.90" y1="193.5" x2="75.90" y2="353.4" stroke="#b4ecb4" stroke-width="1"/>
<line x1="110.50" y1="193.5" x2="110.50" y2="353.4" stroke="#98b2f1" stroke-width="1"/>
<line x1="114.40" y1="193.5" x2="114.40" y2="353.4" stroke="#98b2f1" stroke-width="1"/>
<line x1="118.50" y1="193.5" x2="118.50" y2="353.4" stroke="#d3def8" stroke-width="1.2"/>
<line x1="120.90" y1="193.5" x2="120.90" y2="353.4" stroke="#d3def8" stroke-width="2"/>
<line x1="128.40" y1="193.5" x2="128.40" y2="353.4" stroke="#98b2f1" stroke-width="1"/>
<line x1="181.80" y1="193.5" x2="181.80" y2="353.4" stroke="#d3def8" stroke-width="1"/>
<line x1="184.30" y1="193.5" x2="184.30" y2="353.4" stroke="#98b2f1" stroke-width="1"/>
<line x1="187.20" y1="193.5" x2="187.20" y2="353.4" stroke="#98b2f1" stroke-width="1"/>
<line x1="193.50" y1="193.5" x2="193.50" y2="353.4" stroke="#d3def8" stroke-width="1"/>
<line x1="212.00" y1="193.5" x2="212.00" y2="353.4" stroke="#d3def8" stroke-width="1"/>
<line x1="225.60" y1="193.5" x2="225.60" y2="353.4" stroke="#b4ecb4" stroke-width="1"/>
<line x1="228.10" y1="193.5" x2="228.10" y2="353.4" stroke="#b4ecb4" stroke-width="1"/>
<line x1="259.30" y1="193.5" x2="259.30" y2="353.4" stroke="#98b2f1" stroke-width="1"/>
<line x1="284.70" y1="193.5" x2="284.70" y2="353.4" stroke="#d3def8" stroke-width="1"/>
<line x1="330.10" y1="193.5" x2="330.10" y2="353.4" stroke="#d6f4d6" stroke-width="1"/>
<line x1="338.40" y1="193.5" x2="338.40" y2="353.4" stroke="#b4ecb4" stroke-width="1"/>
<line x1="346.10" y1="193.5" x2="346.10" y2="353.4" stroke="#d3def8" stroke-width="1"/>
<line x1="352.30" y1="193.5" x2="352.30" y2="353.4" stroke="#98b2f1" stroke-width="1"/>
<line x1="359.90" y1="193.5" x2="359.90" y2="353.4" stroke="#d3def8" stroke-width="1"/>
<line x1="364.30" y1="193.5" x2="364.30" y2="353.4" stroke="#98b2f1" stroke-width="1"/>
<line x1="384.60" y1="193.5" x2="384.60" y2="353.4" stroke="#b4ecb4" stroke-width="1"/>
<line x1="399.40" y1="193.5" x2="399.40" y2="353.4" stroke="#b4ecb4" stroke-width="1"/>
<line x1="404.90" y1="193.5" x2="404.90" y2="353.4" stroke="#d3def8" stroke-width="1.5"/>
<line x1="415.50" y1="193.5" x2="415.50" y2="353.4" stroke="#98b2f1" stroke-width="1"/>
<line x1="423.10" y1="193.5" x2="423.10" y2="353.4" stroke="#98b2f1" stroke-width="1"/>
<line x1="445.50" y1="193.5" x2="445.50" y2="353.4" stroke="#98b2f1" stroke-width="1"/>
<line x1="20.8" y1="203.50" x2="468.5" y2="203.50" stroke="#a6a6a6" stroke-width="1"/>
<line x1="20.8" y1="282.30" x2="468.5" y2="282.30" stroke="#a6a6a6" stroke-width="1"/>
<line x1="20.8" y1="323.40" x2="468.5" y2="323.40" stroke="#a6a6a6" stroke-width="1"/>
<line x1="20.8" y1="353.50" x2="468.5" y2="353.50" stroke="#a6a6a6" stroke-width="1"/>
<rect x="32.80" y="236.00" width="18.20" height="1.80" fill="#87cefa"/>
<rect x="49.20" y="236.00" width="1.80" height="1.80" fill="#d2484e"/>
<rect x="36.90" y="232.30" width="17.90" height="1.75" fill="#87cefa"/>
<rect x="53.00" y="232.30" width="1.80" height="1.75" fill="#d2484e"/>
<rect x="36.90" y="234.15" width="17.90" height="1.75" fill="#87cefa"/>
<rect x="53.00" y="234.15" width="1.80" height="1.75" fill="#d2484e"/>
<rect x="57.10" y="234.30" width="17.80" height="1.70" fill="#87cefa"/>
<rect x="73.00" y="234.30" width="1.90" height="1.70" fill="#d2484e"/>
<rect x="57.10" y="236.10" width="17.80" height="1.70" fill="#87cefa"/>
<rect x="73.00" y="236.10" width="1.90" height="1.70" fill="#d2484e"/>
<rect x="63.00" y="230.20" width="17.70" height="1.95" fill="#87cefa"/>
<rect x="79.00" y="230.20" width="1.70" height="1.95" fill="#d2484e"/>
<rect x="63.00" y="232.25" width="17.70" height="1.95" fill="#87cefa"/>
<rect x="79.00" y="232.25" width="1.70" height="1.95" fill="#d2484e"/>
<rect x="89.90" y="223.00" width="17.90" height="1.90" fill="#87cefa"/>
<rect x="105.90" y="223.00" width="1.90" height="1.90" fill="#d2484e"/>
<rect x="89.30" y="225.00" width="18.50" height="1.60" fill="#87cefa"/>
<rect x="105.90" y="225.00" width="1.90" height="1.60" fill="#d2484e"/>
<rect x="88.20" y="226.70" width="19.60" height="1.60" fill="#87cefa"/>
<rect x="105.90" y="226.70" width="1.90" height="1.60" fill="#d2484e"/>
<rect x="89.60" y="226.70" width="1.80" height="1.70" fill="#d2484e"/>
<rect x="85.80" y="228.40" width="17.90" height="1.70" fill="#87cefa"/>
<rect x="101.80" y="228.40" width="1.90" height="1.70" fill="#d2484e"/>
<rect x="85.30" y="230.20" width="18.40" height="2.00" fill="#87cefa"/>
<rect x="101.80" y="230.20" width="1.90" height="2.00" fill="#d2484e"/>
<rect x="84.10" y="232.30" width="17.70" height="1.90" fill="#87cefa"/>
<rect x="99.90" y="232.30" width="1.90" height="1.90" fill="#d2484e"/>
<rect x="82.90" y="234.30" width="18.90" height="1.60" fill="#87cefa"/>
<rect x="99.90" y="234.30" width="1.90" height="1.60" fill="#d2484e"/>
<rect x="83.60" y="234.30" width="1.60" height="1.70" fill="#d2484e"/>
<rect x="81.20" y="236.00" width="20.60" height="1.80" fill="#87cefa"/>
<rect x="99.90" y="236.00" width="1.90" height="1.80" fill="#d2484e"/>
<rect x="81.40" y="236.00" width="1.60" height="1.90" fill="#d2484e"/>
<rect x="118.00" y="232.30" width="17.80" height="1.75" fill="#87cefa"/>
<rect x="134.00" y="232.30" width="1.80" height="1.75" fill="#d2484e"/>
<rect x="118.00" y="234.15" width="17.80" height="1.75" fill="#87cefa"/>
<rect x="134.00" y="234.15" width="1.80" height="1.75" fill="#d2484e"/>
<rect x="114.50" y="236.00" width="17.50" height="1.80" fill="#87cefa"/>
<rect x="130.20" y="236.00" width="1.80" height="1.80" fill="#d2484e"/>
<rect x="152.80" y="228.20" width="17.90" height="1.90" fill="#87cefa"/>
<rect x="168.90" y="228.20" width="1.80" height="1.90" fill="#d2484e"/>
<rect x="152.80" y="230.20" width="17.90" height="1.90" fill="#87cefa"/>
<rect x="168.90" y="230.20" width="1.80" height="1.90" fill="#d2484e"/>
<rect x="144.20" y="232.20" width="17.70" height="1.80" fill="#87cefa"/>
<rect x="160.20" y="232.20" width="1.70" height="1.80" fill="#d2484e"/>
<rect x="138.20" y="234.10" width="18.60" height="1.70" fill="#87cefa"/>
<rect x="154.80" y="234.10" width="2.00" height="1.70" fill="#d2484e"/>
<rect x="138.20" y="235.90" width="18.60" height="1.70" fill="#87cefa"/>
<rect x="154.80" y="235.90" width="2.00" height="1.70" fill="#d2484e"/>
<rect x="181.60" y="224.60" width="22.60" height="1.70" fill="#87cefa"/>
<rect x="202.50" y="224.60" width="1.70" height="1.70" fill="#d2484e"/>
<rect x="180.90" y="226.40" width="18.20" height="1.70" fill="#87cefa"/>
<rect x="197.20" y="226.40" width="1.90" height="1.70" fill="#d2484e"/>
<rect x="179.40" y="228.20" width="19.70" height="1.80" fill="#87cefa"/>
<rect x="197.20" y="228.20" width="1.90" height="1.80" fill="#d2484e"/>
<rect x="179.20" y="228.40" width="1.70" height="1.70" fill="#d2484e"/>
<rect x="178.70" y="230.10" width="16.50" height="2.00" fill="#87cefa"/>
<rect x="193.20" y="230.10" width="2.00" height="2.00" fill="#d2484e"/>
<rect x="177.20" y="232.20" width="18.00" height="1.80" fill="#87cefa"/>
<rect x="193.20" y="232.20" width="2.00" height="1.80" fill="#d2484e"/>
<rect x="178.40" y="232.20" width="1.70" height="1.90" fill="#d2484e"/>
<rect x="175.80" y="234.10" width="19.40" height="1.80" fill="#87cefa"/>
<rect x="193.20" y="234.10" width="2.00" height="1.80" fill="#d2484e"/>
<rect x="177.00" y="234.10" width="1.70" height="1.90" fill="#d2484e"/>
<rect x="173.30" y="236.00" width="21.90" height="1.60" fill="#87cefa"/>
<rect x="193.20" y="236.00" width="2.00" height="1.60" fill="#d2484e"/>
<rect x="174.30" y="236.00" width="1.70" height="1.70" fill="#d2484e"/>
<rect x="213.00" y="226.80" width="19.00" height="1.70" fill="#87cefa"/>
<rect x="230.00" y="226.80" width="2.00" height="1.70" fill="#d2484e"/>
<rect x="213.00" y="228.60" width="19.00" height="1.70" fill="#87cefa"/>
<rect x="230.00" y="228.60" width="2.00" height="1.70" fill="#d2484e"/>
<rect x="204.20" y="230.40" width="15.40" height="1.70" fill="#87cefa"/>
<rect x="217.60" y="230.40" width="2.00" height="1.70" fill="#d2484e"/>
<rect x="205.00" y="230.40" width="1.80" height="1.80" fill="#d2484e"/>
<rect x="201.30" y="232.20" width="18.30" height="1.80" fill="#87cefa"/>
<rect x="217.60" y="232.20" width="2.00" height="1.80" fill="#d2484e"/>
<rect x="197.70" y="234.10" width="17.50" height="1.70" fill="#87cefa"/>
<rect x="213.20" y="234.10" width="2.00" height="1.70" fill="#d2484e"/>
<rect x="197.70" y="235.90" width="17.50" height="1.70" fill="#87cefa"/>
<rect x="213.20" y="235.90" width="2.00" height="1.70" fill="#d2484e"/>
<rect x="237.90" y="224.60" width="15.80" height="1.80" fill="#87cefa"/>
<rect x="251.80" y="224.60" width="1.90" height="1.80" fill="#d2484e"/>
<rect x="239.60" y="224.60" width="1.70" height="1.90" fill="#d2484e"/>
<rect x="236.50" y="226.50" width="17.20" height="1.60" fill="#87cefa"/>
<rect x="251.80" y="226.50" width="1.90" height="1.60" fill="#d2484e"/>
<rect x="235.70" y="228.20" width="18.00" height="2.10" fill="#87cefa"/>
<rect x="251.80" y="228.20" width="1.90" height="2.10" fill="#d2484e"/>
<rect x="236.40" y="230.40" width="11.00" height="1.75" fill="#87cefa"/>
<rect x="245.70" y="230.40" width="1.90" height="1.75" fill="#d2484e"/>
<rect x="236.40" y="232.25" width="11.00" height="1.75" fill="#87cefa"/>
<rect x="245.70" y="232.25" width="1.90" height="1.75" fill="#d2484e"/>
<rect x="226.10" y="234.10" width="17.70" height="1.70" fill="#87cefa"/>
<rect x="242.00" y="234.10" width="1.80" height="1.70" fill="#d2484e"/>
<rect x="226.10" y="235.90" width="17.70" height="1.70" fill="#87cefa"/>
<rect x="242.00" y="235.90" width="1.80" height="1.70" fill="#d2484e"/>
<rect x="249.60" y="232.20" width="18.20" height="1.73" fill="#87cefa"/>
<rect x="265.80" y="232.20" width="2.00" height="1.73" fill="#d2484e"/>
<rect x="249.60" y="234.03" width="18.20" height="1.73" fill="#87cefa"/>
<rect x="265.80" y="234.03" width="2.00" height="1.73" fill="#d2484e"/>
<rect x="249.60" y="235.87" width="18.20" height="1.73" fill="#87cefa"/>
<rect x="265.80" y="235.87" width="2.00" height="1.73" fill="#d2484e"/>
<rect x="247.60" y="236.00" width="1.70" height="1.70" fill="#d2484e"/>
<rect x="262.00" y="226.50" width="18.30" height="1.80" fill="#87cefa"/>
<rect x="278.30" y="226.50" width="2.00" height="1.80" fill="#d2484e"/>
<rect x="262.00" y="228.40" width="18.30" height="1.80" fill="#87cefa"/>
<rect x="278.30" y="228.40" width="2.00" height="1.80" fill="#d2484e"/>
<rect x="262.00" y="230.30" width="18.30" height="1.80" fill="#87cefa"/>
<rect x="278.30" y="230.30" width="2.00" height="1.80" fill="#d2484e"/>
<rect x="264.00" y="228.40" width="1.80" height="1.80" fill="#d2484e"/>
<rect x="262.00" y="230.40" width="1.70" height="1.80" fill="#d2484e"/>
<rect x="300.70" y="221.00" width="18.20" height="1.70" fill="#87cefa"/>
<rect x="317.00" y="221.00" width="1.90" height="1.70" fill="#d2484e"/>
<rect x="300.70" y="222.80" width="18.20" height="1.70" fill="#87cefa"/>
<rect x="317.00" y="222.80" width="1.90" height="1.70" fill="#d2484e"/>
<rect x="298.50" y="224.60" width="20.40" height="1.80" fill="#87cefa"/>
<rect x="317.00" y="224.60" width="1.90" height="1.80" fill="#d2484e"/>
<rect x="298.60" y="224.60" width="1.70" height="1.90" fill="#d2484e"/>
<rect x="286.80" y="226.50" width="16.80" height="1.85" fill="#87cefa"/>
<rect x="302.00" y="226.50" width="1.90" height="1.85" fill="#d2484e"/>
<rect x="286.80" y="228.45" width="16.80" height="1.85" fill="#87cefa"/>
<rect x="302.00" y="228.45" width="1.90" height="1.85" fill="#d2484e"/>
<rect x="284.60" y="230.40" width="17.80" height="1.75" fill="#87cefa"/>
<rect x="300.60" y="230.40" width="1.80" height="1.75" fill="#d2484e"/>
<rect x="284.60" y="232.25" width="17.80" height="1.75" fill="#87cefa"/>
<rect x="300.60" y="232.25" width="1.80" height="1.75" fill="#d2484e"/>
<rect x="286.00" y="232.20" width="1.70" height="1.90" fill="#d2484e"/>
<rect x="280.30" y="234.10" width="22.10" height="1.70" fill="#87cefa"/>
<rect x="300.60" y="234.10" width="1.80" height="1.70" fill="#d2484e"/>
<rect x="280.30" y="235.90" width="22.10" height="1.70" fill="#87cefa"/>
<rect x="300.60" y="235.90" width="1.80" height="1.70" fill="#d2484e"/>
<rect x="281.60" y="236.00" width="1.70" height="1.70" fill="#d2484e"/>
<rect x="322.60" y="224.60" width="20.50" height="1.83" fill="#87cefa"/>
<rect x="341.20" y="224.60" width="1.90" height="1.83" fill="#d2484e"/>
<rect x="322.60" y="226.53" width="20.50" height="1.83" fill="#87cefa"/>
<rect x="341.20" y="226.53" width="1.90" height="1.83" fill="#d2484e"/>
<rect x="322.60" y="228.47" width="20.50" height="1.83" fill="#87cefa"/>
<rect x="341.20" y="228.47" width="1.90" height="1.83" fill="#d2484e"/>
<rect x="321.90" y="230.40" width="21.20" height="1.75" fill="#87cefa"/>
<rect x="341.20" y="230.40" width="1.90" height="1.75" fill="#d2484e"/>
<rect x="321.90" y="232.25" width="21.20" height="1.75" fill="#87cefa"/>
<rect x="341.20" y="232.25" width="1.90" height="1.75" fill="#d2484e"/>
<rect x="322.60" y="230.40" width="1.70" height="1.80" fill="#d2484e"/>
<rect x="308.70" y="234.10" width="17.50" height="1.70" fill="#87cefa"/>
<rect x="324.20" y="234.10" width="2.00" height="1.70" fill="#d2484e"/>
<rect x="308.70" y="235.90" width="17.50" height="1.70" fill="#87cefa"/>
<rect x="324.20" y="235.90" width="2.00" height="1.70" fill="#d2484e"/>
<rect x="327.00" y="234.10" width="16.10" height="1.70" fill="#87cefa"/>
<rect x="341.20" y="234.10" width="1.90" height="1.70" fill="#d2484e"/>
<rect x="327.00" y="235.90" width="16.10" height="1.70" fill="#87cefa"/>
<rect x="341.20" y="235.90" width="1.90" height="1.70" fill="#d2484e"/>
<rect x="343.00" y="236.00" width="19.40" height="1.90" fill="#87cefa"/>
<rect x="361.00" y="236.00" width="1.80" height="1.90" fill="#d2484e"/>
<rect x="357.70" y="232.40" width="17.00" height="1.70" fill="#87cefa"/>
<rect x="373.30" y="232.40" width="1.90" height="1.70" fill="#d2484e"/>
<rect x="357.70" y="234.20" width="17.00" height="1.70" fill="#87cefa"/>
<rect x="373.30" y="234.20" width="1.90" height="1.70" fill="#d2484e"/>
<rect x="373.80" y="228.40" width="15.80" height="1.65" fill="#87cefa"/>
<rect x="388.00" y="228.40" width="1.80" height="1.65" fill="#d2484e"/>
<rect x="373.80" y="230.15" width="15.80" height="1.65" fill="#87cefa"/>
<rect x="388.00" y="230.15" width="1.80" height="1.65" fill="#d2484e"/>
<rect x="375.90" y="228.40" width="1.70" height="1.60" fill="#d2484e"/>
<rect x="372.00" y="236.00" width="17.60" height="1.90" fill="#87cefa"/>
<rect x="388.00" y="236.00" width="1.80" height="1.90" fill="#d2484e"/>
<rect x="396.20" y="234.20" width="17.50" height="1.80" fill="#87cefa"/>
<rect x="412.20" y="234.20" width="1.90" height="1.80" fill="#d2484e"/>
<rect x="396.20" y="236.10" width="17.50" height="1.80" fill="#87cefa"/>
<rect x="412.20" y="236.10" width="1.90" height="1.80" fill="#d2484e"/>
<rect x="422.50" y="234.20" width="17.90" height="1.80" fill="#87cefa"/>
<rect x="438.40" y="234.20" width="2.00" height="1.80" fill="#d2484e"/>
<rect x="422.50" y="236.10" width="17.90" height="1.80" fill="#87cefa"/>
<rect x="438.40" y="236.10" width="2.00" height="1.80" fill="#d2484e"/>
<rect x="120.30" y="238.00" width="21.60" height="1.80" fill="#6b8e23"/>
<rect x="120.30" y="238.00" width="3.30" height="1.80" fill="#d2484e"/>
<rect x="140.20" y="238.00" width="1.70" height="1.80" fill="#d2484e"/>
<rect x="300.00" y="237.80" width="20.40" height="1.80" fill="#6b8e23"/>
<rect x="300.00" y="237.80" width="1.80" height="1.80" fill="#d2484e"/>
<rect x="318.60" y="237.80" width="1.80" height="1.80" fill="#d2484e"/>
<rect x="322.60" y="237.80" width="21.20" height="1.80" fill="#6b8e23"/>
<rect x="322.60" y="237.80" width="1.80" height="1.80" fill="#d2484e"/>
<rect x="342.00" y="237.80" width="1.80" height="1.80" fill="#d2484e"/>
<rect x="437.00" y="238.00" width="17.50" height="1.70" fill="#6b8e23"/>
<rect x="437.00" y="238.00" width="2.00" height="1.70" fill="#d2484e"/>
<rect x="452.80" y="238.00" width="1.70" height="1.70" fill="#d2484e"/>
<rect x="42.90" y="253.20" width="19.90" height="1.90" fill="#2ebd2e"/>
<rect x="44.70" y="253.20" width="1.90" height="1.90" fill="#d2484e"/>
<rect x="61.00" y="253.20" width="1.80" height="1.90" fill="#d2484e"/>
<rect x="81.60" y="251.30" width="19.70" height="1.80" fill="#2ebd2e"/>
<rect x="83.10" y="251.30" width="1.70" height="1.80" fill="#d2484e"/>
<rect x="99.60" y="251.30" width="1.70" height="1.80" fill="#d2484e"/>
<rect x="79.10" y="253.20" width="22.20" height="1.90" fill="#2ebd2e"/>
<rect x="81.40" y="253.20" width="1.70" height="1.90" fill="#d2484e"/>
<rect x="99.60" y="253.20" width="1.70" height="1.90" fill="#d2484e"/>
<rect x="101.30" y="253.20" width="20.50" height="1.90" fill="#2ebd2e"/>
<rect x="103.80" y="253.20" width="1.50" height="1.90" fill="#d2484e"/>
<rect x="120.10" y="253.20" width="1.70" height="1.90" fill="#d2484e"/>
<rect x="121.00" y="251.30" width="14.70" height="1.85" fill="#2ebd2e"/>
<rect x="121.80" y="251.30" width="2.20" height="1.85" fill="#d2484e"/>
<rect x="134.00" y="251.30" width="1.90" height="1.85" fill="#d2484e"/>
<rect x="121.00" y="253.25" width="14.70" height="1.85" fill="#2ebd2e"/>
<rect x="121.80" y="253.25" width="2.20" height="1.85" fill="#d2484e"/>
<rect x="134.00" y="253.25" width="1.90" height="1.85" fill="#d2484e"/>
<rect x="154.40" y="247.70" width="16.10" height="1.70" fill="#2ebd2e"/>
<rect x="155.90" y="247.70" width="2.10" height="1.70" fill="#d2484e"/>
<rect x="168.80" y="247.70" width="1.70" height="1.70" fill="#d2484e"/>
<rect x="154.40" y="249.50" width="16.10" height="1.70" fill="#2ebd2e"/>
<rect x="155.90" y="249.50" width="2.10" height="1.70" fill="#d2484e"/>
<rect x="168.80" y="249.50" width="1.70" height="1.70" fill="#d2484e"/>
<rect x="152.20" y="251.30" width="18.30" height="1.80" fill="#2ebd2e"/>
<rect x="153.70" y="251.30" width="2.20" height="1.80" fill="#d2484e"/>
<rect x="168.80" y="251.30" width="1.70" height="1.80" fill="#d2484e"/>
<rect x="152.20" y="253.20" width="18.30" height="1.80" fill="#2ebd2e"/>
<rect x="153.70" y="253.20" width="2.20" height="1.80" fill="#d2484e"/>
<rect x="168.80" y="253.20" width="1.70" height="1.80" fill="#d2484e"/>
<rect x="165.40" y="246.00" width="16.80" height="1.60" fill="#2ebd2e"/>
<rect x="166.10" y="246.00" width="2.20" height="1.60" fill="#d2484e"/>
<rect x="180.80" y="246.00" width="1.70" height="1.60" fill="#d2484e"/>
<rect x="177.80" y="247.70" width="21.20" height="1.70" fill="#2ebd2e"/>
<rect x="179.20" y="247.70" width="1.70" height="1.70" fill="#d2484e"/>
<rect x="197.20" y="247.70" width="1.80" height="1.70" fill="#d2484e"/>
<rect x="177.80" y="249.50" width="21.20" height="1.70" fill="#2ebd2e"/>
<rect x="179.20" y="249.50" width="1.70" height="1.70" fill="#d2484e"/>
<rect x="197.20" y="249.50" width="1.80" height="1.70" fill="#d2484e"/>
<rect x="173.40" y="251.30" width="21.20" height="1.80" fill="#2ebd2e"/>
<rect x="174.30" y="251.30" width="2.00" height="1.80" fill="#d2484e"/>
<rect x="192.90" y="251.30" width="1.90" height="1.80" fill="#d2484e"/>
<rect x="173.40" y="253.20" width="21.20" height="1.80" fill="#2ebd2e"/>
<rect x="174.30" y="253.20" width="2.00" height="1.80" fill="#d2484e"/>
<rect x="192.90" y="253.20" width="1.90" height="1.80" fill="#d2484e"/>
<rect x="212.90" y="247.70" width="18.30" height="1.70" fill="#2ebd2e"/>
<rect x="212.90" y="247.70" width="2.00" height="1.70" fill="#d2484e"/>
<rect x="229.40" y="247.70" width="2.00" height="1.70" fill="#d2484e"/>
<rect x="210.60" y="249.50" width="12.50" height="1.70" fill="#2ebd2e"/>
<rect x="221.40" y="249.50" width="1.70" height="1.70" fill="#d2484e"/>
<rect x="203.30" y="251.30" width="15.50" height="1.80" fill="#2ebd2e"/>
<rect x="204.80" y="251.30" width="2.20" height="1.80" fill="#d2484e"/>
<rect x="217.10" y="251.30" width="1.80" height="1.80" fill="#d2484e"/>
<rect x="203.30" y="253.20" width="15.50" height="1.80" fill="#2ebd2e"/>
<rect x="204.80" y="253.20" width="2.20" height="1.80" fill="#d2484e"/>
<rect x="217.10" y="253.20" width="1.80" height="1.80" fill="#d2484e"/>
<rect x="227.50" y="249.50" width="20.50" height="1.75" fill="#2ebd2e"/>
<rect x="229.00" y="249.50" width="2.20" height="1.75" fill="#d2484e"/>
<rect x="245.80" y="249.50" width="2.20" height="1.75" fill="#d2484e"/>
<rect x="227.50" y="251.35" width="20.50" height="1.75" fill="#2ebd2e"/>
<rect x="229.00" y="251.35" width="2.20" height="1.75" fill="#d2484e"/>
<rect x="245.80" y="251.35" width="2.20" height="1.75" fill="#d2484e"/>
<rect x="227.50" y="253.20" width="16.10" height="1.80" fill="#2ebd2e"/>
<rect x="229.00" y="253.20" width="2.20" height="1.80" fill="#d2484e"/>
<rect x="260.40" y="247.70" width="21.10" height="1.75" fill="#2ebd2e"/>
<rect x="263.30" y="247.70" width="2.20" height="1.75" fill="#d2484e"/>
<rect x="279.70" y="247.70" width="1.80" height="1.75" fill="#d2484e"/>
<rect x="260.40" y="249.55" width="21.10" height="1.75" fill="#2ebd2e"/>
<rect x="263.30" y="249.55" width="2.20" height="1.75" fill="#d2484e"/>
<rect x="279.70" y="249.55" width="1.80" height="1.75" fill="#d2484e"/>
<rect x="260.40" y="251.40" width="21.10" height="1.75" fill="#2ebd2e"/>
<rect x="263.30" y="251.40" width="2.20" height="1.75" fill="#d2484e"/>
<rect x="279.70" y="251.40" width="1.80" height="1.75" fill="#d2484e"/>
<rect x="260.40" y="253.25" width="21.10" height="1.75" fill="#2ebd2e"/>
<rect x="263.30" y="253.25" width="2.20" height="1.75" fill="#d2484e"/>
<rect x="279.70" y="253.25" width="1.80" height="1.75" fill="#d2484e"/>
<rect x="301.50" y="239.60" width="17.50" height="1.75" fill="#2ebd2e"/>
<rect x="317.40" y="239.60" width="1.80" height="1.75" fill="#d2484e"/>
<rect x="301.50" y="241.45" width="17.50" height="1.75" fill="#2ebd2e"/>
<rect x="317.40" y="241.45" width="1.80" height="1.75" fill="#d2484e"/>
<rect x="297.60" y="243.30" width="14.10" height="2.60" fill="#2ebd2e"/>
<rect x="310.00" y="243.30" width="1.80" height="2.60" fill="#d2484e"/>
<rect x="298.20" y="243.30" width="1.80" height="2.60" fill="#d2484e"/>
<rect x="293.90" y="246.00" width="17.80" height="1.80" fill="#2ebd2e"/>
<rect x="310.00" y="246.00" width="1.80" height="1.80" fill="#d2484e"/>
<rect x="294.50" y="246.00" width="1.80" height="1.80" fill="#d2484e"/>
<rect x="291.00" y="247.90" width="20.70" height="1.70" fill="#2ebd2e"/>
<rect x="310.00" y="247.90" width="1.80" height="1.70" fill="#d2484e"/>
<rect x="287.40" y="249.70" width="16.00" height="2.10" fill="#2ebd2e"/>
<rect x="301.60" y="249.70" width="1.80" height="2.10" fill="#d2484e"/>
<rect x="288.00" y="249.70" width="1.80" height="2.10" fill="#d2484e"/>
<rect x="285.90" y="251.90" width="16.10" height="1.45" fill="#2ebd2e"/>
<rect x="300.20" y="251.90" width="1.80" height="1.45" fill="#d2484e"/>
<rect x="286.60" y="251.90" width="1.80" height="1.45" fill="#d2484e"/>
<rect x="285.90" y="253.45" width="16.10" height="1.45" fill="#2ebd2e"/>
<rect x="300.20" y="253.45" width="1.80" height="1.45" fill="#d2484e"/>
<rect x="286.60" y="253.45" width="1.80" height="1.45" fill="#d2484e"/>
<rect x="335.00" y="239.60" width="17.60" height="2.10" fill="#2ebd2e"/>
<rect x="335.00" y="239.60" width="1.60" height="2.10" fill="#d2484e"/>
<rect x="350.90" y="239.60" width="1.70" height="2.10" fill="#d2484e"/>
<rect x="323.40" y="241.80" width="20.40" height="1.35" fill="#2ebd2e"/>
<rect x="342.10" y="241.80" width="1.70" height="1.35" fill="#d2484e"/>
<rect x="323.40" y="241.80" width="2.00" height="1.35" fill="#d2484e"/>
<rect x="323.40" y="243.25" width="20.40" height="1.35" fill="#2ebd2e"/>
<rect x="342.10" y="243.25" width="1.70" height="1.35" fill="#d2484e"/>
<rect x="323.40" y="243.25" width="2.00" height="1.35" fill="#d2484e"/>
<rect x="323.40" y="244.70" width="18.90" height="1.35" fill="#2ebd2e"/>
<rect x="340.60" y="244.70" width="1.70" height="1.35" fill="#d2484e"/>
<rect x="323.40" y="244.70" width="2.00" height="1.35" fill="#d2484e"/>
<rect x="323.40" y="246.15" width="18.90" height="1.35" fill="#2ebd2e"/>
<rect x="340.60" y="246.15" width="1.70" height="1.35" fill="#d2484e"/>
<rect x="323.40" y="246.15" width="2.00" height="1.35" fill="#d2484e"/>
<rect x="323.40" y="247.60" width="17.50" height="1.40" fill="#2ebd2e"/>
<rect x="339.20" y="247.60" width="1.70" height="1.40" fill="#d2484e"/>
<rect x="323.40" y="247.60" width="2.00" height="1.40" fill="#d2484e"/>
<rect x="323.40" y="249.10" width="17.50" height="1.40" fill="#2ebd2e"/>
<rect x="339.20" y="249.10" width="1.70" height="1.40" fill="#d2484e"/>
<rect x="323.40" y="249.10" width="2.00" height="1.40" fill="#d2484e"/>
<rect x="323.40" y="250.60" width="16.00" height="1.35" fill="#2ebd2e"/>
<rect x="337.70" y="250.60" width="1.70" height="1.35" fill="#d2484e"/>
<rect x="323.40" y="250.60" width="2.00" height="1.35" fill="#d2484e"/>
<rect x="323.40" y="252.05" width="16.00" height="1.35" fill="#2ebd2e"/>
<rect x="337.70" y="252.05" width="1.70" height="1.35" fill="#d2484e"/>
<rect x="323.40" y="252.05" width="2.00" height="1.35" fill="#d2484e"/>
<rect x="321.20" y="253.50" width="21.80" height="1.40" fill="#2ebd2e"/>
<rect x="341.30" y="253.50" width="1.70" height="1.40" fill="#d2484e"/>
<rect x="322.60" y="253.50" width="1.80" height="1.40" fill="#d2484e"/>
<rect x="373.70" y="253.50" width="21.90" height="1.40" fill="#2ebd2e"/>
<rect x="375.20" y="253.50" width="1.60" height="1.40" fill="#d2484e"/>
<rect x="394.00" y="253.50" width="1.60" height="1.40" fill="#d2484e"/>
<rect x="434.90" y="251.60" width="19.60" height="1.60" fill="#2ebd2e"/>
<rect x="435.60" y="251.60" width="1.80" height="1.60" fill="#d2484e"/>
<rect x="452.80" y="251.60" width="1.70" height="1.60" fill="#d2484e"/>
<rect x="432.90" y="253.30" width="21.60" height="1.60" fill="#2ebd2e"/>
<rect x="433.60" y="253.30" width="1.80" height="1.60" fill="#d2484e"/>
<rect x="452.80" y="253.30" width="1.70" height="1.60" fill="#d2484e"/>
<rect x="87.40" y="257.20" width="20.20" height="1.95" fill="#5cf2a0"/>
<rect x="89.30" y="257.20" width="2.10" height="1.95" fill="#d2484e"/>
<rect x="105.80" y="257.20" width="1.80" height="1.95" fill="#d2484e"/>
<rect x="87.40" y="259.27" width="20.20" height="1.95" fill="#5cf2a0"/>
<rect x="89.30" y="259.27" width="2.10" height="1.95" fill="#d2484e"/>
<rect x="105.80" y="259.27" width="1.80" height="1.95" fill="#d2484e"/>
<rect x="87.40" y="261.33" width="20.20" height="1.95" fill="#5cf2a0"/>
<rect x="89.30" y="261.33" width="2.10" height="1.95" fill="#d2484e"/>
<rect x="105.80" y="261.33" width="1.80" height="1.95" fill="#d2484e"/>
<rect x="82.80" y="263.40" width="20.70" height="1.68" fill="#5cf2a0"/>
<rect x="83.50" y="263.40" width="1.80" height="1.68" fill="#d2484e"/>
<rect x="101.80" y="263.40" width="1.70" height="1.68" fill="#d2484e"/>
<rect x="82.80" y="265.20" width="20.70" height="1.68" fill="#5cf2a0"/>
<rect x="83.50" y="265.20" width="1.80" height="1.68" fill="#d2484e"/>
<rect x="101.80" y="265.20" width="1.70" height="1.68" fill="#d2484e"/>
<rect x="81.30" y="267.00" width="19.70" height="1.81" fill="#5cf2a0"/>
<rect x="83.30" y="267.00" width="1.80" height="1.81" fill="#d2484e"/>
<rect x="99.40" y="267.00" width="1.80" height="1.81" fill="#d2484e"/>
<rect x="81.30" y="268.93" width="19.70" height="1.81" fill="#5cf2a0"/>
<rect x="83.30" y="268.93" width="1.80" height="1.81" fill="#d2484e"/>
<rect x="99.40" y="268.93" width="1.80" height="1.81" fill="#d2484e"/>
<rect x="81.30" y="270.87" width="19.70" height="1.81" fill="#5cf2a0"/>
<rect x="83.30" y="270.87" width="1.80" height="1.81" fill="#d2484e"/>
<rect x="99.40" y="270.87" width="1.80" height="1.81" fill="#d2484e"/>
<rect x="79.10" y="272.80" width="21.90" height="1.61" fill="#5cf2a0"/>
<rect x="81.30" y="272.80" width="1.80" height="1.61" fill="#d2484e"/>
<rect x="99.40" y="272.80" width="1.80" height="1.61" fill="#d2484e"/>
<rect x="79.10" y="274.53" width="21.90" height="1.61" fill="#5cf2a0"/>
<rect x="81.30" y="274.53" width="1.80" height="1.61" fill="#d2484e"/>
<rect x="99.40" y="274.53" width="1.80" height="1.61" fill="#d2484e"/>
<rect x="79.10" y="276.27" width="21.90" height="1.61" fill="#5cf2a0"/>
<rect x="81.30" y="276.27" width="1.80" height="1.61" fill="#d2484e"/>
<rect x="99.40" y="276.27" width="1.80" height="1.61" fill="#d2484e"/>
<rect x="178.50" y="255.20" width="20.50" height="1.68" fill="#5cf2a0"/>
<rect x="179.20" y="255.20" width="1.70" height="1.68" fill="#d2484e"/>
<rect x="197.20" y="255.20" width="1.80" height="1.68" fill="#d2484e"/>
<rect x="178.50" y="257.00" width="20.50" height="1.68" fill="#5cf2a0"/>
<rect x="179.20" y="257.00" width="1.70" height="1.68" fill="#d2484e"/>
<rect x="197.20" y="257.00" width="1.80" height="1.68" fill="#d2484e"/>
<rect x="178.50" y="258.80" width="20.50" height="1.68" fill="#5cf2a0"/>
<rect x="179.20" y="258.80" width="1.70" height="1.68" fill="#d2484e"/>
<rect x="197.20" y="258.80" width="1.80" height="1.68" fill="#d2484e"/>
<rect x="177.80" y="260.60" width="16.80" height="1.53" fill="#5cf2a0"/>
<rect x="178.50" y="260.60" width="1.70" height="1.53" fill="#d2484e"/>
<rect x="192.90" y="260.60" width="1.90" height="1.53" fill="#d2484e"/>
<rect x="177.80" y="262.25" width="16.80" height="1.53" fill="#5cf2a0"/>
<rect x="178.50" y="262.25" width="1.70" height="1.53" fill="#d2484e"/>
<rect x="192.90" y="262.25" width="1.90" height="1.53" fill="#d2484e"/>
<rect x="177.80" y="263.90" width="16.80" height="1.53" fill="#5cf2a0"/>
<rect x="178.50" y="263.90" width="1.70" height="1.53" fill="#d2484e"/>
<rect x="192.90" y="263.90" width="1.90" height="1.53" fill="#d2484e"/>
<rect x="177.80" y="265.55" width="16.80" height="1.53" fill="#5cf2a0"/>
<rect x="178.50" y="265.55" width="1.70" height="1.53" fill="#d2484e"/>
<rect x="192.90" y="265.55" width="1.90" height="1.53" fill="#d2484e"/>
<rect x="174.90" y="267.20" width="19.70" height="1.71" fill="#5cf2a0"/>
<rect x="176.30" y="267.20" width="2.00" height="1.71" fill="#d2484e"/>
<rect x="192.90" y="267.20" width="1.90" height="1.71" fill="#d2484e"/>
<rect x="174.90" y="269.03" width="19.70" height="1.71" fill="#5cf2a0"/>
<rect x="176.30" y="269.03" width="2.00" height="1.71" fill="#d2484e"/>
<rect x="192.90" y="269.03" width="1.90" height="1.71" fill="#d2484e"/>
<rect x="174.90" y="270.87" width="19.70" height="1.71" fill="#5cf2a0"/>
<rect x="176.30" y="270.87" width="2.00" height="1.71" fill="#d2484e"/>
<rect x="192.90" y="270.87" width="1.90" height="1.71" fill="#d2484e"/>
<rect x="173.10" y="272.70" width="21.50" height="1.68" fill="#5cf2a0"/>
<rect x="174.30" y="272.70" width="2.00" height="1.68" fill="#d2484e"/>
<rect x="192.90" y="272.70" width="1.90" height="1.68" fill="#d2484e"/>
<rect x="173.10" y="274.50" width="21.50" height="1.68" fill="#5cf2a0"/>
<rect x="174.30" y="274.50" width="2.00" height="1.68" fill="#d2484e"/>
<rect x="192.90" y="274.50" width="1.90" height="1.68" fill="#d2484e"/>
<rect x="173.10" y="276.30" width="21.50" height="1.68" fill="#5cf2a0"/>
<rect x="174.30" y="276.30" width="2.00" height="1.68" fill="#d2484e"/>
<rect x="192.90" y="276.30" width="1.90" height="1.68" fill="#d2484e"/>
<rect x="203.30" y="272.70" width="15.50" height="1.68" fill="#5cf2a0"/>
<rect x="204.80" y="272.70" width="2.20" height="1.68" fill="#d2484e"/>
<rect x="217.10" y="272.70" width="1.80" height="1.68" fill="#d2484e"/>
<rect x="203.30" y="274.50" width="15.50" height="1.68" fill="#5cf2a0"/>
<rect x="204.80" y="274.50" width="2.20" height="1.68" fill="#d2484e"/>
<rect x="217.10" y="274.50" width="1.80" height="1.68" fill="#d2484e"/>
<rect x="203.30" y="276.30" width="15.50" height="1.68" fill="#5cf2a0"/>
<rect x="204.80" y="276.30" width="2.20" height="1.68" fill="#d2484e"/>
<rect x="217.10" y="276.30" width="1.80" height="1.68" fill="#d2484e"/>
<rect x="246.50" y="267.20" width="21.20" height="1.71" fill="#5cf2a0"/>
<rect x="248.00" y="267.20" width="1.80" height="1.71" fill="#d2484e"/>
<rect x="266.00" y="267.20" width="1.80" height="1.71" fill="#d2484e"/>
<rect x="246.50" y="269.03" width="21.20" height="1.71" fill="#5cf2a0"/>
<rect x="248.00" y="269.03" width="1.80" height="1.71" fill="#d2484e"/>
<rect x="266.00" y="269.03" width="1.80" height="1.71" fill="#d2484e"/>
<rect x="246.50" y="270.87" width="21.20" height="1.71" fill="#5cf2a0"/>
<rect x="248.00" y="270.87" width="1.80" height="1.71" fill="#d2484e"/>
<rect x="266.00" y="270.87" width="1.80" height="1.71" fill="#d2484e"/>
<rect x="237.70" y="272.70" width="16.10" height="1.68" fill="#5cf2a0"/>
<rect x="239.80" y="272.70" width="1.70" height="1.68" fill="#d2484e"/>
<rect x="252.20" y="272.70" width="1.70" height="1.68" fill="#d2484e"/>
<rect x="237.70" y="274.50" width="16.10" height="1.68" fill="#5cf2a0"/>
<rect x="239.80" y="274.50" width="1.70" height="1.68" fill="#d2484e"/>
<rect x="252.20" y="274.50" width="1.70" height="1.68" fill="#d2484e"/>
<rect x="237.70" y="276.30" width="16.10" height="1.68" fill="#5cf2a0"/>
<rect x="239.80" y="276.30" width="1.70" height="1.68" fill="#d2484e"/>
<rect x="252.20" y="276.30" width="1.70" height="1.68" fill="#d2484e"/>
<rect x="262.60" y="261.00" width="17.50" height="1.71" fill="#5cf2a0"/>
<rect x="264.00" y="261.00" width="1.60" height="1.71" fill="#d2484e"/>
<rect x="278.30" y="261.00" width="1.80" height="1.71" fill="#d2484e"/>
<rect x="262.60" y="262.83" width="17.50" height="1.71" fill="#5cf2a0"/>
<rect x="264.00" y="262.83" width="1.60" height="1.71" fill="#d2484e"/>
<rect x="278.30" y="262.83" width="1.80" height="1.71" fill="#d2484e"/>
<rect x="262.60" y="264.67" width="17.50" height="1.71" fill="#5cf2a0"/>
<rect x="264.00" y="264.67" width="1.60" height="1.71" fill="#d2484e"/>
<rect x="278.30" y="264.67" width="1.80" height="1.71" fill="#d2484e"/>
<rect x="260.40" y="272.70" width="19.70" height="1.68" fill="#5cf2a0"/>
<rect x="261.80" y="272.70" width="1.90" height="1.68" fill="#d2484e"/>
<rect x="278.30" y="272.70" width="1.80" height="1.68" fill="#d2484e"/>
<rect x="260.40" y="274.50" width="19.70" height="1.68" fill="#5cf2a0"/>
<rect x="261.80" y="274.50" width="1.90" height="1.68" fill="#d2484e"/>
<rect x="278.30" y="274.50" width="1.80" height="1.68" fill="#d2484e"/>
<rect x="260.40" y="276.30" width="19.70" height="1.68" fill="#5cf2a0"/>
<rect x="261.80" y="276.30" width="1.90" height="1.68" fill="#d2484e"/>
<rect x="278.30" y="276.30" width="1.80" height="1.68" fill="#d2484e"/>
<rect x="282.30" y="272.70" width="2.20" height="1.68" fill="#5cf2a0"/>
<rect x="282.30" y="272.70" width="2.20" height="1.68" fill="#d2484e"/>
<rect x="282.30" y="274.50" width="2.20" height="1.68" fill="#5cf2a0"/>
<rect x="282.30" y="274.50" width="2.20" height="1.68" fill="#d2484e"/>
<rect x="282.30" y="276.30" width="2.20" height="1.68" fill="#5cf2a0"/>
<rect x="282.30" y="276.30" width="2.20" height="1.68" fill="#d2484e"/>
<rect x="284.50" y="265.00" width="18.20" height="1.75" fill="#5cf2a0"/>
<rect x="286.00" y="265.00" width="2.10" height="1.75" fill="#d2484e"/>
<rect x="300.60" y="265.00" width="2.10" height="1.75" fill="#d2484e"/>
<rect x="284.50" y="266.87" width="18.20" height="1.75" fill="#5cf2a0"/>
<rect x="286.00" y="266.87" width="2.10" height="1.75" fill="#d2484e"/>
<rect x="300.60" y="266.87" width="2.10" height="1.75" fill="#d2484e"/>
<rect x="284.50" y="268.74" width="18.20" height="1.75" fill="#5cf2a0"/>
<rect x="286.00" y="268.74" width="2.10" height="1.75" fill="#d2484e"/>
<rect x="300.60" y="268.74" width="2.10" height="1.75" fill="#d2484e"/>
<rect x="284.50" y="270.61" width="18.20" height="1.75" fill="#5cf2a0"/>
<rect x="286.00" y="270.61" width="2.10" height="1.75" fill="#d2484e"/>
<rect x="300.60" y="270.61" width="2.10" height="1.75" fill="#d2484e"/>
<rect x="284.50" y="272.49" width="18.20" height="1.75" fill="#5cf2a0"/>
<rect x="286.00" y="272.49" width="2.10" height="1.75" fill="#d2484e"/>
<rect x="300.60" y="272.49" width="2.10" height="1.75" fill="#d2484e"/>
<rect x="284.50" y="274.36" width="18.20" height="1.75" fill="#5cf2a0"/>
<rect x="286.00" y="274.36" width="2.10" height="1.75" fill="#d2484e"/>
<rect x="300.60" y="274.36" width="2.10" height="1.75" fill="#d2484e"/>
<rect x="284.50" y="276.23" width="18.20" height="1.75" fill="#5cf2a0"/>
<rect x="286.00" y="276.23" width="2.10" height="1.75" fill="#d2484e"/>
<rect x="300.60" y="276.23" width="2.10" height="1.75" fill="#d2484e"/>
<rect x="297.60" y="259.20" width="20.60" height="1.81" fill="#5cf2a0"/>
<rect x="298.30" y="259.20" width="2.00" height="1.81" fill="#d2484e"/>
<rect x="316.60" y="259.20" width="1.90" height="1.81" fill="#d2484e"/>
<rect x="297.60" y="261.13" width="20.60" height="1.81" fill="#5cf2a0"/>
<rect x="298.30" y="261.13" width="2.00" height="1.81" fill="#d2484e"/>
<rect x="316.60" y="261.13" width="1.90" height="1.81" fill="#d2484e"/>
<rect x="297.60" y="263.07" width="20.60" height="1.81" fill="#5cf2a0"/>
<rect x="298.30" y="263.07" width="2.00" height="1.81" fill="#d2484e"/>
<rect x="316.60" y="263.07" width="1.90" height="1.81" fill="#d2484e"/>
<rect x="321.20" y="266.70" width="21.80" height="1.81" fill="#5cf2a0"/>
<rect x="322.60" y="266.70" width="2.20" height="1.81" fill="#d2484e"/>
<rect x="341.20" y="266.70" width="1.80" height="1.81" fill="#d2484e"/>
<rect x="321.20" y="268.63" width="21.80" height="1.81" fill="#5cf2a0"/>
<rect x="322.60" y="268.63" width="2.20" height="1.81" fill="#d2484e"/>
<rect x="341.20" y="268.63" width="1.80" height="1.81" fill="#d2484e"/>
<rect x="321.20" y="270.57" width="21.80" height="1.81" fill="#5cf2a0"/>
<rect x="322.60" y="270.57" width="2.20" height="1.81" fill="#d2484e"/>
<rect x="341.20" y="270.57" width="1.80" height="1.81" fill="#d2484e"/>
<rect x="321.20" y="272.50" width="19.70" height="1.81" fill="#5cf2a0"/>
<rect x="322.60" y="272.50" width="2.20" height="1.81" fill="#d2484e"/>
<rect x="339.10" y="272.50" width="1.80" height="1.81" fill="#d2484e"/>
<rect x="321.20" y="274.43" width="19.70" height="1.81" fill="#5cf2a0"/>
<rect x="322.60" y="274.43" width="2.20" height="1.81" fill="#d2484e"/>
<rect x="339.10" y="274.43" width="1.80" height="1.81" fill="#d2484e"/>
<rect x="321.20" y="276.37" width="19.70" height="1.81" fill="#5cf2a0"/>
<rect x="322.60" y="276.37" width="2.20" height="1.81" fill="#d2484e"/>
<rect x="339.10" y="276.37" width="1.80" height="1.81" fill="#d2484e"/>
<rect x="373.70" y="272.50" width="16.10" height="1.81" fill="#5cf2a0"/>
<rect x="375.20" y="272.50" width="2.20" height="1.81" fill="#d2484e"/>
<rect x="387.80" y="272.50" width="2.00" height="1.81" fill="#d2484e"/>
<rect x="373.70" y="274.43" width="16.10" height="1.81" fill="#5cf2a0"/>
<rect x="375.20" y="274.43" width="2.20" height="1.81" fill="#d2484e"/>
<rect x="387.80" y="274.43" width="2.00" height="1.81" fill="#d2484e"/>
<rect x="373.70" y="276.37" width="16.10" height="1.81" fill="#5cf2a0"/>
<rect x="375.20" y="276.37" width="2.20" height="1.81" fill="#d2484e"/>
<rect x="387.80" y="276.37" width="2.00" height="1.81" fill="#d2484e"/>
<rect x="62.90" y="300.10" width="18.10" height="3.60" fill="#ffb6c1"/>
<rect x="207.20" y="302.00" width="16.10" height="1.60" fill="#ffb6c1"/>
<rect x="284.40" y="302.00" width="18.20" height="1.60" fill="#ffb6c1"/>
<rect x="333.30" y="302.00" width="19.70" height="1.60" fill="#ffb6c1"/>
<rect x="237.90" y="299.80" width="16.00" height="4.10" fill="#ffb6c1"/>
<rect x="237.90" y="304.00" width="16.00" height="1.90" fill="#8b008b"/>
<rect x="240.00" y="304.00" width="1.70" height="1.90" fill="#ffff00"/>
<rect x="252.00" y="304.00" width="1.90" height="1.90" fill="#ffff00"/>
<rect x="58.90" y="308.10" width="388.00" height="11.70" fill="#b0b0b0"/>
<rect x="217.00" y="308.10" width="14.60" height="11.70" fill="#ffa500"/>
<rect x="247.70" y="308.10" width="8.00" height="11.70" fill="#ff0000"/>
<rect x="251.45" y="308.55" width="2.30" height="10.80" fill="#b00000" stroke="#000" stroke-width="0.9"/>
<rect x="257.60" y="308.10" width="2.40" height="11.70" fill="#ffa500"/>
<rect x="288.00" y="308.10" width="2.50" height="11.70" fill="#ffa500"/>
<rect x="320.60" y="308.10" width="7.60" height="11.70" fill="#ff0000"/>
<rect x="328.65" y="308.55" width="2.30" height="10.80" fill="#b00000" stroke="#000" stroke-width="0.9"/>
<rect x="331.40" y="308.10" width="4.10" height="11.70" fill="#ff5a5a"/>
<rect x="335.50" y="308.10" width="1.10" height="11.70" fill="#ff0000"/>
<rect x="336.60" y="308.10" width="2.50" height="11.70" fill="#ffa500"/>
<rect x="357.10" y="308.10" width="3.90" height="11.70" fill="#ffa500"/>
<rect x="373.30" y="308.10" width="1.70" height="11.70" fill="#ffa500"/>
<rect x="375.70" y="308.10" width="1.50" height="11.70" fill="#ff0000"/>
<rect x="377.80" y="308.10" width="10.20" height="11.70" fill="#ffa500"/>
<rect x="65.30" y="343.40" width="17.80" height="1.60" fill="#87cefa"/>
<rect x="67.00" y="343.40" width="1.90" height="1.60" fill="#d2484e"/>
<rect x="49.20" y="345.30" width="16.10" height="1.60" fill="#87cefa"/>
<rect x="50.90" y="345.30" width="1.90" height="1.60" fill="#d2484e"/>
<rect x="34.60" y="347.00" width="19.00" height="1.70" fill="#87cefa"/>
<rect x="36.80" y="347.00" width="1.90" height="1.70" fill="#d2484e"/>
<rect x="59.40" y="347.00" width="19.70" height="1.70" fill="#87cefa"/>
<rect x="63.10" y="347.00" width="1.90" height="1.70" fill="#d2484e"/>
<rect x="32.80" y="349.20" width="18.20" height="1.70" fill="#87cefa"/>
<rect x="34.60" y="349.20" width="2.00" height="1.70" fill="#d2484e"/>
<rect x="57.20" y="349.20" width="18.30" height="1.70" fill="#87cefa"/>
<rect x="58.70" y="349.20" width="2.00" height="1.70" fill="#d2484e"/>
<rect x="83.50" y="349.20" width="18.30" height="1.70" fill="#87cefa"/>
<rect x="85.40" y="349.20" width="2.00" height="1.70" fill="#d2484e"/>
<rect x="135.90" y="349.30" width="18.20" height="1.60" fill="#87cefa"/>
<rect x="138.00" y="349.30" width="2.10" height="1.60" fill="#d2484e"/>
<rect x="156.40" y="349.30" width="18.40" height="1.60" fill="#87cefa"/>
<rect x="158.70" y="349.30" width="2.10" height="1.60" fill="#d2484e"/>
<rect x="256.20" y="349.30" width="17.90" height="1.60" fill="#87cefa"/>
<rect x="258.00" y="349.30" width="2.00" height="1.60" fill="#d2484e"/>
<rect x="319.30" y="349.30" width="17.50" height="1.60" fill="#87cefa"/>
<rect x="321.00" y="349.30" width="2.10" height="1.60" fill="#d2484e"/>
<rect x="369.40" y="348.90" width="22.30" height="2.00" fill="#87cefa"/>
<rect x="371.50" y="348.90" width="2.10" height="2.00" fill="#d2484e"/>
<rect x="390.00" y="348.90" width="2.00" height="2.00" fill="#d2484e"/>
<rect x="389.90" y="347.20" width="18.10" height="1.60" fill="#87cefa"/>
<rect x="391.70" y="347.20" width="1.70" height="1.60" fill="#d2484e"/>
<rect x="391.70" y="348.90" width="14.00" height="2.00" fill="#87cefa"/>
<rect x="430.20" y="348.90" width="37.30" height="2.00" fill="#87cefa"/>
<rect x="432.50" y="348.90" width="2.10" height="2.00" fill="#d2484e"/>
<rect x="450.70" y="348.90" width="2.30" height="2.00" fill="#d2484e"/>
<rect x="256.20" y="359.50" width="19.70" height="1.50" fill="#ffb6c1"/>
<rect x="254.30" y="361.00" width="17.50" height="3.60" fill="#ffb6c1"/>
<rect x="333.10" y="363.10" width="18.10" height="1.90" fill="#ffb6c1"/>
<rect x="256.20" y="365.00" width="19.70" height="1.80" fill="#8b008b"/>
<rect x="258.20" y="365.00" width="1.50" height="1.80" fill="#ffff00"/>
<rect x="266.40" y="365.00" width="1.50" height="1.80" fill="#ffff00"/>
<rect x="333.10" y="365.00" width="18.10" height="1.80" fill="#8b008b"/>
<rect x="59.00" y="368.80" width="387.90" height="11.80" fill="#b0b0b0"/>
<rect x="162.20" y="368.80" width="2.30" height="11.80" fill="#ffa500"/>
<rect x="257.65" y="369.25" width="2.00" height="10.90" fill="#b00000" stroke="#000" stroke-width="0.9"/>
<rect x="260.10" y="368.80" width="2.20" height="11.80" fill="#ffa500"/>
<rect x="263.80" y="368.80" width="5.80" height="11.80" fill="#ffa500"/>
<rect x="269.60" y="368.80" width="5.60" height="11.80" fill="#ff5a5a"/>
<rect x="275.20" y="368.80" width="3.20" height="11.80" fill="#ff0000"/>
<rect x="278.40" y="368.80" width="1.70" height="11.80" fill="#ffa500"/>
<rect x="337.00" y="368.80" width="1.90" height="11.80" fill="#ff5a5a"/>
<rect x="339.90" y="368.80" width="3.40" height="11.80" fill="#ffa500"/>
<rect x="361.10" y="368.80" width="10.50" height="11.80" fill="#ffa500"/>
<line x1="39.4" y1="385.6" x2="445.6" y2="385.6" stroke="#000" stroke-width="1.2"/>
<line x1="39.40" y1="385.6" x2="39.40" y2="388.90" stroke="#000" stroke-width="0.9"/>
<line x1="49.55" y1="385.6" x2="49.55" y2="388.90" stroke="#000" stroke-width="0.9"/>
<line x1="59.70" y1="385.6" x2="59.70" y2="388.90" stroke="#000" stroke-width="0.9"/>
<line x1="69.85" y1="385.6" x2="69.85" y2="388.90" stroke="#000" stroke-width="0.9"/>
<line x1="80.00" y1="385.6" x2="80.00" y2="391.60" stroke="#000" stroke-width="0.9"/>
<line x1="90.15" y1="385.6" x2="90.15" y2="388.90" stroke="#000" stroke-width="0.9"/>
<line x1="100.30" y1="385.6" x2="100.30" y2="388.90" stroke="#000" stroke-width="0.9"/>
<line x1="110.45" y1="385.6" x2="110.45" y2="388.90" stroke="#000" stroke-width="0.9"/>
<line x1="120.60" y1="385.6" x2="120.60" y2="388.90" stroke="#000" stroke-width="0.9"/>
<line x1="130.75" y1="385.6" x2="130.75" y2="388.90" stroke="#000" stroke-width="0.9"/>
<line x1="140.90" y1="385.6" x2="140.90" y2="388.90" stroke="#000" stroke-width="0.9"/>
<line x1="151.05" y1="385.6" x2="151.05" y2="388.90" stroke="#000" stroke-width="0.9"/>
<line x1="161.20" y1="385.6" x2="161.20" y2="388.90" stroke="#000" stroke-width="0.9"/>
<line x1="171.35" y1="385.6" x2="171.35" y2="388.90" stroke="#000" stroke-width="0.9"/>
<line x1="181.50" y1="385.6" x2="181.50" y2="391.60" stroke="#000" stroke-width="0.9"/>
<line x1="191.65" y1="385.6" x2="191.65" y2="388.90" stroke="#000" stroke-width="0.9"/>
<line x1="201.80" y1="385.6" x2="201.80" y2="388.90" stroke="#000" stroke-width="0.9"/>
<line x1="211.95" y1="385.6" x2="211.95" y2="388.90" stroke="#000" stroke-width="0.9"/>
<line x1="222.10" y1="385.6" x2="222.10" y2="388.90" stroke="#000" stroke-width="0.9"/>
<line x1="232.25" y1="385.6" x2="232.25" y2="388.90" stroke="#000" stroke-width="0.9"/>
<line x1="242.40" y1="385.6" x2="242.40" y2="388.90" stroke="#000" stroke-width="0.9"/>
<line x1="252.55" y1="385.6" x2="252.55" y2="388.90" stroke="#000" stroke-width="0.9"/>
<line x1="262.70" y1="385.6" x2="262.70" y2="388.90" stroke="#000" stroke-width="0.9"/>
<line x1="272.85" y1="385.6" x2="272.85" y2="388.90" stroke="#000" stroke-width="0.9"/>
<line x1="283.00" y1="385.6" x2="283.00" y2="391.60" stroke="#000" stroke-width="0.9"/>
<line x1="293.15" y1="385.6" x2="293.15" y2="388.90" stroke="#000" stroke-width="0.9"/>
<line x1="303.30" y1="385.6" x2="303.30" y2="388.90" stroke="#000" stroke-width="0.9"/>
<line x1="313.45" y1="385.6" x2="313.45" y2="388.90" stroke="#000" stroke-width="0.9"/>
<line x1="323.60" y1="385.6" x2="323.60" y2="388.90" stroke="#000" stroke-width="0.9"/>
<line x1="333.75" y1="385.6" x2="333.75" y2="388.90" stroke="#000" stroke-width="0.9"/>
<line x1="343.90" y1="385.6" x2="343.90" y2="388.90" stroke="#000" stroke-width="0.9"/>
<line x1="354.05" y1="385.6" x2="354.05" y2="388.90" stroke="#000" stroke-width="0.9"/>
<line x1="364.20" y1="385.6" x2="364.20" y2="388.90" stroke="#000" stroke-width="0.9"/>
<line x1="374.35" y1="385.6" x2="374.35" y2="388.90" stroke="#000" stroke-width="0.9"/>
<line x1="384.50" y1="385.6" x2="384.50" y2="391.60" stroke="#000" stroke-width="0.9"/>
<line x1="394.65" y1="385.6" x2="394.65" y2="388.90" stroke="#000" stroke-width="0.9"/>
<line x1="404.80" y1="385.6" x2="404.80" y2="388.90" stroke="#000" stroke-width="0.9"/>
<line x1="414.95" y1="385.6" x2="414.95" y2="388.90" stroke="#000" stroke-width="0.9"/>
<line x1="425.10" y1="385.6" x2="425.10" y2="388.90" stroke="#000" stroke-width="0.9"/>
<line x1="435.25" y1="385.6" x2="435.25" y2="388.90" stroke="#000" stroke-width="0.9"/>
<line x1="445.40" y1="385.6" x2="445.40" y2="388.90" stroke="#000" stroke-width="0.9"/>
<text x="80.80" y="403.6" font-size="9.4" text-anchor="middle" font-family='"Liberation Sans", sans-serif'>50</text>
<text x="182.30" y="403.6" font-size="9.4" text-anchor="middle" font-family='"Liberation Sans", sans-serif'>100</text>
<text x="283.80" y="403.6" font-size="9.4" text-anchor="middle" font-family='"Liberation Sans", sans-serif'>150</text>
<text x="385.30" y="403.6" font-size="9.4" text-anchor="middle" font-family='"Liberation Sans", sans-serif'>200</text>
<text x="242.6" y="418.6" font-size="9.8" text-anchor="middle" font-family='"Liberation Sans", sans-serif'>Codon position (<tspan font-style="italic">i</tspan>)</text>
<text x="24.60" y="213.90" font-size="9.6" font-family='"Liberation Sans", sans-serif'>Motif-scan</text>
<text x="24.40" y="293.00" font-size="9.6" font-family='"Liberation Sans", sans-serif'>A &amp; B-list</text>
<text x="24.60" y="334.00" font-size="9.6" font-family='"Liberation Sans", sans-serif'>Motif-scan</text>
<text x="24.40" y="364.50" font-size="9.6" font-family='"Liberation Sans", sans-serif'>A &amp; B-list</text>
<path d="M18.80,204.50 C14.38,205.50 14.55,208.50 14.55,212.50 L14.55,252.00 C14.55,256.00 13.79,258.50 12.90,259.00 C13.79,259.50 14.55,262.00 14.55,266.00 L14.55,307.50 C14.55,311.50 14.38,314.50 18.80,315.50" fill="none" stroke="#000" stroke-width="1.1"/>
<path d="M18.80,324.30 C14.53,325.30 14.70,328.30 14.70,332.30 L14.70,345.40 C14.70,349.40 13.96,351.90 13.10,352.40 C13.96,352.90 14.70,355.40 14.70,359.40 L14.70,372.60 C14.70,376.60 14.53,379.60 18.80,380.60" fill="none" stroke="#000" stroke-width="1.1"/>
<text transform="translate(10,261.5) rotate(-90)" font-size="11.5" text-anchor="middle" font-family='"Liberation Sans", sans-serif'>B*51</text>
<text transform="translate(10,352) rotate(-90)" font-size="11.5" text-anchor="middle" font-family='"Liberation Sans", sans-serif'>B*18</text>
<line x1="499.00" y1="255.30" x2="499.00" y2="297.00" stroke="#5b8def" stroke-width="1"/>
<line x1="499.00" y1="255.30" x2="522.50" y2="255.30" stroke="#5b8def" stroke-width="1"/>
<line x1="511.10" y1="266.40" x2="511.10" y2="295.60" stroke="#7fe07f" stroke-width="1"/>
<line x1="511.10" y1="266.40" x2="522.50" y2="266.40" stroke="#7fe07f" stroke-width="1"/>
<line x1="502.80" y1="283.50" x2="502.80" y2="295.00" stroke="#ffc8d0" stroke-width="1"/>
<line x1="502.80" y1="283.50" x2="522.50" y2="283.50" stroke="#ffc8d0" stroke-width="1"/>
<line x1="509.50" y1="296.00" x2="511.50" y2="294.40" stroke="#b05ab0" stroke-width="1"/>
<line x1="511.50" y1="294.40" x2="522.50" y2="294.40" stroke="#b05ab0" stroke-width="1"/>
<rect x="493.70" y="295.00" width="16.30" height="1.60" fill="#ffb6c1"/>
<rect x="498.00" y="296.60" width="13.50" height="1.70" fill="#8b008b"/>
<line x1="484.40" y1="297.40" x2="484.40" y2="363.30" stroke="#ffff66" stroke-width="1"/>
<line x1="484.40" y1="297.40" x2="498.00" y2="297.40" stroke="#ffff66" stroke-width="1"/>
<line x1="484.40" y1="363.30" x2="522.50" y2="363.30" stroke="#ffff66" stroke-width="1"/>
<rect x="485.10" y="299.30" width="48.80" height="9.20" fill="#b0b0b0"/>
<rect x="495.5" y="299.7" width="3.2" height="8.4" fill="#b00000" stroke="#000" stroke-width="0.8"/>
<rect x="494.60" y="299.30" width="0.90" height="9.20" fill="#ff0000"/>
<rect x="499.40" y="299.30" width="2.10" height="9.20" fill="#ffa500"/>
<rect x="512.90" y="299.30" width="1.00" height="9.20" fill="#ffa500"/>
<rect x="513.90" y="299.30" width="2.30" height="9.20" fill="#ff0000"/>
<line x1="515.30" y1="308.50" x2="515.30" y2="319.20" stroke="#ff5050" stroke-width="1"/>
<line x1="515.30" y1="319.20" x2="522.50" y2="319.20" stroke="#ff5050" stroke-width="1"/>
<line x1="513.60" y1="308.50" x2="513.60" y2="330.60" stroke="#ffc870" stroke-width="1"/>
<line x1="513.60" y1="330.60" x2="522.50" y2="330.60" stroke="#ffc870" stroke-width="1"/>
<line x1="500.50" y1="308.50" x2="500.50" y2="341.00" stroke="#a0a0a0" stroke-width="1"/>
<line x1="500.50" y1="341.00" x2="522.50" y2="341.00" stroke="#a0a0a0" stroke-width="1"/>
<line x1="497.30" y1="308.50" x2="497.30" y2="352.20" stroke="#404040" stroke-width="1"/>
<line x1="497.30" y1="352.20" x2="522.50" y2="352.20" stroke="#404040" stroke-width="1"/>
<text x="524.9" y="258.50" font-size="8.2" font-family='"Liberation Sans", sans-serif'>Drug resistance mutant</text>
<text x="524.9" y="270.00" font-size="8.2" font-family='"Liberation Sans", sans-serif'>B/C difference</text>
<text x="524.9" y="286.80" font-size="8.2" font-family='"Liberation Sans", sans-serif'>B-list</text>
<text x="524.9" y="297.80" font-size="8.2" font-family='"Liberation Sans", sans-serif'>A-list</text>
<text x="524.9" y="322.20" font-size="8.2" font-family='"Liberation Sans", sans-serif'>Median &gt;2</text>
<text x="524.9" y="333.20" font-size="8.2" font-family='"Liberation Sans", sans-serif'>Median &gt;1.5</text>
<text x="524.9" y="343.90" font-size="8.2" font-family='"Liberation Sans", sans-serif'>10% quantile &#160;&gt;1</text>
<text x="524.9" y="354.80" font-size="8.2" font-family='"Liberation Sans", sans-serif'>2.5% quantile &#160;&gt;1</text>
<text x="524.9" y="365.80" font-size="8.2" font-family='"Liberation Sans", sans-serif'>Escape mutation</text>
<text x="596.4" y="278.10" font-size="8.2" font-family='"Liberation Sans", sans-serif'>SYFPEITHI database:</text>
<text x="597.4" y="322.70" font-size="8.2" font-family='"Liberation Sans", sans-serif'>HLA FactsBook:</text>
<rect x="596.40" y="284.70" width="25.70" height="2.90" fill="#5cf2a0"/>
<rect x="599.80" y="284.70" width="2.60" height="2.90" fill="#d2484e"/>
<rect x="619.40" y="284.70" width="2.70" height="2.90" fill="#d2484e"/>
<text x="624.9" y="288.90" font-size="8.2" font-family='"Liberation Sans", sans-serif'>2 strong</text>
<rect x="596.40" y="296.10" width="25.70" height="2.90" fill="#2ebd2e"/>
<rect x="599.80" y="296.10" width="2.60" height="2.90" fill="#d2484e"/>
<rect x="619.40" y="296.10" width="2.70" height="2.90" fill="#d2484e"/>
<text x="624.9" y="299.90" font-size="8.2" font-family='"Liberation Sans", sans-serif'>1 strong, 1 weak</text>
<rect x="596.40" y="306.20" width="25.70" height="2.80" fill="#6b8e23"/>
<rect x="599.80" y="306.20" width="2.60" height="2.80" fill="#d2484e"/>
<rect x="619.40" y="306.20" width="2.70" height="2.80" fill="#d2484e"/>
<text x="624.9" y="309.80" font-size="8.2" font-family='"Liberation Sans", sans-serif'>2 weak</text>
<rect x="596.40" y="330.00" width="25.70" height="2.60" fill="#87cefa"/>
<rect x="599.80" y="330.00" width="2.60" height="2.60" fill="#d2484e"/>
<rect x="619.40" y="330.00" width="2.70" height="2.60" fill="#d2484e"/>
<text x="624.9" y="333.80" font-size="8.2" font-family='"Liberation Sans", sans-serif'>2 strong</text>
</svg>
</body></html>
